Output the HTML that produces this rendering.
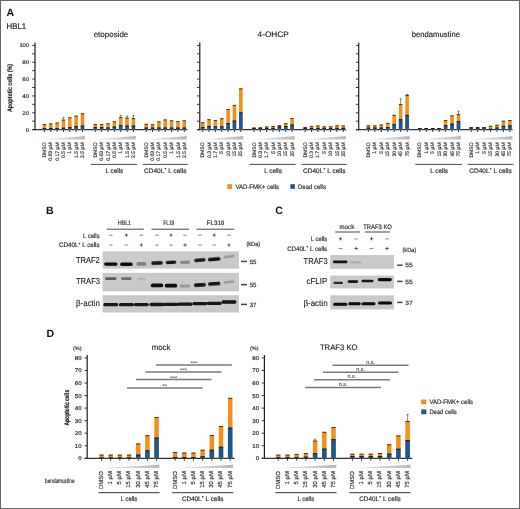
<!DOCTYPE html>
<html><head><meta charset="utf-8"><style>
html,body{margin:0;padding:0;background:#fff;}
body{width:520px;height:509px;overflow:hidden;position:relative;font-family:"Liberation Sans", sans-serif;}
.frame{position:absolute;left:0;top:0;width:518px;height:507px;border:1px solid #666;}
svg{position:absolute;left:0;top:0;will-change:transform;text-rendering:geometricPrecision;filter:blur(0.3px);}
</style></head><body>
<svg width="520" height="509" viewBox="0 0 520 509" font-family='"Liberation Sans", sans-serif'><defs>
<linearGradient id="wg" x1="0" x2="1" y1="0" y2="0"><stop offset="0" stop-color="#f0f0f0"/><stop offset="1" stop-color="#b8b8b8"/></linearGradient>
<linearGradient id="blotg" x1="0" x2="0" y1="0" y2="1"><stop offset="0" stop-color="#c6c6c6"/><stop offset="0.3" stop-color="#cbcbcb"/><stop offset="1" stop-color="#c7c7c7"/></linearGradient>
<filter id="bl" x="-30%" y="-100%" width="160%" height="300%"><feGaussianBlur stdDeviation="0.7"/></filter>
</defs><text x="6.40" y="15.80" font-size="10.6" text-anchor="start" font-weight="bold" fill="#111" stroke="#111" stroke-width="0" >A</text>
<text x="6.60" y="28.70" font-size="8.4" text-anchor="start" font-weight="normal" fill="#222" stroke="#222" stroke-width="0.2" textLength="19.6" lengthAdjust="spacingAndGlyphs" >HBL1</text>
<text transform="translate(11.9,88) rotate(-90)" font-size="6.6" text-anchor="middle" fill="#1a1a1a" stroke="#1a1a1a" stroke-width="0.15" font-weight="bold" textLength="48" lengthAdjust="spacingAndGlyphs">Apoptotic cells (%)</text>
<text x="111.00" y="37.40" font-size="8.0" text-anchor="middle" font-weight="normal" fill="#222" stroke="#222" stroke-width="0.15" textLength="34.6" lengthAdjust="spacingAndGlyphs" >etoposide</text>
<line x1="35.00" y1="42.40" x2="35.00" y2="130.20" stroke="#1e1e1e" stroke-width="1.2"/>
<line x1="32.20" y1="129.60" x2="35.00" y2="129.60" stroke="#222" stroke-width="0.9"/>
<text x="29.10" y="131.50" font-size="5.4" text-anchor="end" font-weight="normal" fill="#333" stroke="#333" stroke-width="0.2" textLength="3.3" lengthAdjust="spacingAndGlyphs" >0</text>
<line x1="32.20" y1="121.18" x2="35.00" y2="121.18" stroke="#222" stroke-width="0.9"/>
<line x1="32.20" y1="112.76" x2="35.00" y2="112.76" stroke="#222" stroke-width="0.9"/>
<text x="29.10" y="114.66" font-size="5.4" text-anchor="end" font-weight="normal" fill="#333" stroke="#333" stroke-width="0.2" textLength="6.8" lengthAdjust="spacingAndGlyphs" >20</text>
<line x1="32.20" y1="104.34" x2="35.00" y2="104.34" stroke="#222" stroke-width="0.9"/>
<line x1="32.20" y1="95.92" x2="35.00" y2="95.92" stroke="#222" stroke-width="0.9"/>
<text x="29.10" y="97.82" font-size="5.4" text-anchor="end" font-weight="normal" fill="#333" stroke="#333" stroke-width="0.2" textLength="6.8" lengthAdjust="spacingAndGlyphs" >40</text>
<line x1="32.20" y1="87.50" x2="35.00" y2="87.50" stroke="#222" stroke-width="0.9"/>
<line x1="32.20" y1="79.08" x2="35.00" y2="79.08" stroke="#222" stroke-width="0.9"/>
<text x="29.10" y="80.98" font-size="5.4" text-anchor="end" font-weight="normal" fill="#333" stroke="#333" stroke-width="0.2" textLength="6.8" lengthAdjust="spacingAndGlyphs" >60</text>
<line x1="32.20" y1="70.66" x2="35.00" y2="70.66" stroke="#222" stroke-width="0.9"/>
<line x1="32.20" y1="62.24" x2="35.00" y2="62.24" stroke="#222" stroke-width="0.9"/>
<text x="29.10" y="64.14" font-size="5.4" text-anchor="end" font-weight="normal" fill="#333" stroke="#333" stroke-width="0.2" textLength="6.8" lengthAdjust="spacingAndGlyphs" >80</text>
<line x1="32.20" y1="53.82" x2="35.00" y2="53.82" stroke="#222" stroke-width="0.9"/>
<line x1="32.20" y1="45.40" x2="35.00" y2="45.40" stroke="#222" stroke-width="0.9"/>
<text x="29.10" y="47.30" font-size="5.4" text-anchor="end" font-weight="normal" fill="#333" stroke="#333" stroke-width="0.2" textLength="9.7" lengthAdjust="spacingAndGlyphs" >100</text>
<line x1="32.20" y1="129.60" x2="187.30" y2="129.60" stroke="#2a3440" stroke-width="1.3"/>
<rect x="42.60" y="124.13" width="3.60" height="5.47" fill="#F1901A" />
<rect x="42.60" y="128.08" width="3.60" height="1.52" fill="#195894" />
<line x1="42.80" y1="124.58" x2="46.00" y2="124.58" stroke="#3a2a10" stroke-width="0.9"/>
<line x1="42.80" y1="128.58" x2="46.00" y2="128.58" stroke="#1a1a1a" stroke-width="1.0"/>
<line x1="44.40" y1="129.60" x2="44.40" y2="132.00" stroke="#222" stroke-width="0.9"/>
<rect x="48.95" y="123.45" width="3.60" height="6.15" fill="#F1901A" />
<rect x="48.95" y="128.08" width="3.60" height="1.52" fill="#195894" />
<line x1="49.15" y1="123.90" x2="52.35" y2="123.90" stroke="#3a2a10" stroke-width="0.9"/>
<line x1="49.15" y1="128.58" x2="52.35" y2="128.58" stroke="#1a1a1a" stroke-width="1.0"/>
<line x1="50.75" y1="129.60" x2="50.75" y2="132.00" stroke="#222" stroke-width="0.9"/>
<rect x="55.30" y="122.61" width="3.60" height="6.99" fill="#F1901A" />
<rect x="55.30" y="128.08" width="3.60" height="1.52" fill="#195894" />
<line x1="55.50" y1="123.06" x2="58.70" y2="123.06" stroke="#3a2a10" stroke-width="0.9"/>
<line x1="55.50" y1="128.58" x2="58.70" y2="128.58" stroke="#1a1a1a" stroke-width="1.0"/>
<line x1="57.10" y1="129.60" x2="57.10" y2="132.00" stroke="#222" stroke-width="0.9"/>
<rect x="61.65" y="119.66" width="3.60" height="9.94" fill="#F1901A" />
<rect x="61.65" y="127.75" width="3.60" height="1.85" fill="#195894" />
<line x1="61.85" y1="120.11" x2="65.05" y2="120.11" stroke="#3a2a10" stroke-width="0.9"/>
<line x1="61.85" y1="128.25" x2="65.05" y2="128.25" stroke="#1a1a1a" stroke-width="1.0"/>
<line x1="63.45" y1="117.39" x2="63.45" y2="119.66" stroke="#333" stroke-width="0.6"/>
<line x1="62.35" y1="117.39" x2="64.55" y2="117.39" stroke="#333" stroke-width="0.6"/>
<line x1="63.45" y1="129.60" x2="63.45" y2="132.00" stroke="#222" stroke-width="0.9"/>
<rect x="68.00" y="117.39" width="3.60" height="12.21" fill="#F1901A" />
<rect x="68.00" y="127.07" width="3.60" height="2.53" fill="#195894" />
<line x1="68.20" y1="117.84" x2="71.40" y2="117.84" stroke="#3a2a10" stroke-width="0.9"/>
<line x1="68.20" y1="127.57" x2="71.40" y2="127.57" stroke="#1a1a1a" stroke-width="1.0"/>
<line x1="69.80" y1="129.60" x2="69.80" y2="132.00" stroke="#222" stroke-width="0.9"/>
<rect x="74.35" y="115.71" width="3.60" height="13.89" fill="#F1901A" />
<rect x="74.35" y="126.23" width="3.60" height="3.37" fill="#195894" />
<line x1="74.55" y1="116.16" x2="77.75" y2="116.16" stroke="#3a2a10" stroke-width="0.9"/>
<line x1="74.55" y1="126.73" x2="77.75" y2="126.73" stroke="#1a1a1a" stroke-width="1.0"/>
<line x1="76.15" y1="129.60" x2="76.15" y2="132.00" stroke="#222" stroke-width="0.9"/>
<rect x="80.70" y="113.35" width="3.60" height="16.25" fill="#F1901A" />
<rect x="80.70" y="125.64" width="3.60" height="3.96" fill="#195894" />
<line x1="80.90" y1="113.80" x2="84.10" y2="113.80" stroke="#3a2a10" stroke-width="0.9"/>
<line x1="80.90" y1="126.14" x2="84.10" y2="126.14" stroke="#1a1a1a" stroke-width="1.0"/>
<line x1="82.50" y1="129.60" x2="82.50" y2="132.00" stroke="#222" stroke-width="0.9"/>
<polygon points="43.40,139.50 85.00,136.10 85.00,139.50" fill="url(#wg)"/>
<text transform="translate(45.98,142.30) rotate(-90)" font-size="5.1" text-anchor="end" fill="#333" stroke="#333" stroke-width="0.18000000000000002">DMSO</text>
<text transform="translate(52.33,142.30) rotate(-90)" font-size="5.1" text-anchor="end" fill="#333" stroke="#333" stroke-width="0.18000000000000002">0.03 µM</text>
<text transform="translate(58.68,142.30) rotate(-90)" font-size="5.1" text-anchor="end" fill="#333" stroke="#333" stroke-width="0.18000000000000002">0.17 µM</text>
<text transform="translate(65.03,142.30) rotate(-90)" font-size="5.1" text-anchor="end" fill="#333" stroke="#333" stroke-width="0.18000000000000002">0.5 µM</text>
<text transform="translate(71.38,142.30) rotate(-90)" font-size="5.1" text-anchor="end" fill="#333" stroke="#333" stroke-width="0.18000000000000002">1 µM</text>
<text transform="translate(77.73,142.30) rotate(-90)" font-size="5.1" text-anchor="end" fill="#333" stroke="#333" stroke-width="0.18000000000000002">1.5 µM</text>
<text transform="translate(84.08,142.30) rotate(-90)" font-size="5.1" text-anchor="end" fill="#333" stroke="#333" stroke-width="0.18000000000000002">2.5 µM</text>
<rect x="93.50" y="124.13" width="3.60" height="5.47" fill="#F1901A" />
<rect x="93.50" y="127.07" width="3.60" height="2.53" fill="#195894" />
<line x1="93.70" y1="124.58" x2="96.90" y2="124.58" stroke="#3a2a10" stroke-width="0.9"/>
<line x1="93.70" y1="127.57" x2="96.90" y2="127.57" stroke="#1a1a1a" stroke-width="1.0"/>
<line x1="95.30" y1="129.60" x2="95.30" y2="132.00" stroke="#222" stroke-width="0.9"/>
<rect x="99.85" y="124.13" width="3.60" height="5.47" fill="#F1901A" />
<rect x="99.85" y="127.07" width="3.60" height="2.53" fill="#195894" />
<line x1="100.05" y1="124.58" x2="103.25" y2="124.58" stroke="#3a2a10" stroke-width="0.9"/>
<line x1="100.05" y1="127.57" x2="103.25" y2="127.57" stroke="#1a1a1a" stroke-width="1.0"/>
<line x1="101.65" y1="129.60" x2="101.65" y2="132.00" stroke="#222" stroke-width="0.9"/>
<rect x="106.20" y="123.37" width="3.60" height="6.23" fill="#F1901A" />
<rect x="106.20" y="127.49" width="3.60" height="2.11" fill="#195894" />
<line x1="106.40" y1="123.82" x2="109.60" y2="123.82" stroke="#3a2a10" stroke-width="0.9"/>
<line x1="106.40" y1="127.99" x2="109.60" y2="127.99" stroke="#1a1a1a" stroke-width="1.0"/>
<line x1="108.00" y1="129.60" x2="108.00" y2="132.00" stroke="#222" stroke-width="0.9"/>
<rect x="112.55" y="121.35" width="3.60" height="8.25" fill="#F1901A" />
<rect x="112.55" y="126.65" width="3.60" height="2.95" fill="#195894" />
<line x1="112.75" y1="121.80" x2="115.95" y2="121.80" stroke="#3a2a10" stroke-width="0.9"/>
<line x1="112.75" y1="127.15" x2="115.95" y2="127.15" stroke="#1a1a1a" stroke-width="1.0"/>
<line x1="114.35" y1="129.60" x2="114.35" y2="132.00" stroke="#222" stroke-width="0.9"/>
<rect x="118.90" y="117.14" width="3.60" height="12.46" fill="#F1901A" />
<rect x="118.90" y="125.14" width="3.60" height="4.46" fill="#195894" />
<line x1="119.10" y1="117.59" x2="122.30" y2="117.59" stroke="#3a2a10" stroke-width="0.9"/>
<line x1="119.10" y1="125.64" x2="122.30" y2="125.64" stroke="#1a1a1a" stroke-width="1.0"/>
<line x1="120.70" y1="115.29" x2="120.70" y2="117.14" stroke="#333" stroke-width="0.6"/>
<line x1="119.60" y1="115.29" x2="121.80" y2="115.29" stroke="#333" stroke-width="0.6"/>
<line x1="120.70" y1="129.60" x2="120.70" y2="132.00" stroke="#222" stroke-width="0.9"/>
<rect x="125.25" y="117.64" width="3.60" height="11.96" fill="#F1901A" />
<rect x="125.25" y="125.64" width="3.60" height="3.96" fill="#195894" />
<line x1="125.45" y1="118.09" x2="128.65" y2="118.09" stroke="#3a2a10" stroke-width="0.9"/>
<line x1="125.45" y1="126.14" x2="128.65" y2="126.14" stroke="#1a1a1a" stroke-width="1.0"/>
<line x1="127.05" y1="116.13" x2="127.05" y2="117.64" stroke="#333" stroke-width="0.6"/>
<line x1="125.95" y1="116.13" x2="128.15" y2="116.13" stroke="#333" stroke-width="0.6"/>
<line x1="127.05" y1="129.60" x2="127.05" y2="132.00" stroke="#222" stroke-width="0.9"/>
<rect x="131.60" y="118.15" width="3.60" height="11.45" fill="#F1901A" />
<rect x="131.60" y="125.64" width="3.60" height="3.96" fill="#195894" />
<line x1="131.80" y1="118.60" x2="135.00" y2="118.60" stroke="#3a2a10" stroke-width="0.9"/>
<line x1="131.80" y1="126.14" x2="135.00" y2="126.14" stroke="#1a1a1a" stroke-width="1.0"/>
<line x1="133.40" y1="115.71" x2="133.40" y2="118.15" stroke="#333" stroke-width="0.6"/>
<line x1="132.30" y1="115.71" x2="134.50" y2="115.71" stroke="#333" stroke-width="0.6"/>
<line x1="133.40" y1="129.60" x2="133.40" y2="132.00" stroke="#222" stroke-width="0.9"/>
<polygon points="94.30,139.50 135.90,136.10 135.90,139.50" fill="url(#wg)"/>
<text transform="translate(96.88,142.30) rotate(-90)" font-size="5.1" text-anchor="end" fill="#333" stroke="#333" stroke-width="0.18000000000000002">DMSO</text>
<text transform="translate(103.23,142.30) rotate(-90)" font-size="5.1" text-anchor="end" fill="#333" stroke="#333" stroke-width="0.18000000000000002">0.03 µM</text>
<text transform="translate(109.58,142.30) rotate(-90)" font-size="5.1" text-anchor="end" fill="#333" stroke="#333" stroke-width="0.18000000000000002">0.17 µM</text>
<text transform="translate(115.93,142.30) rotate(-90)" font-size="5.1" text-anchor="end" fill="#333" stroke="#333" stroke-width="0.18000000000000002">0.5 µM</text>
<text transform="translate(122.28,142.30) rotate(-90)" font-size="5.1" text-anchor="end" fill="#333" stroke="#333" stroke-width="0.18000000000000002">1 µM</text>
<text transform="translate(128.63,142.30) rotate(-90)" font-size="5.1" text-anchor="end" fill="#333" stroke="#333" stroke-width="0.18000000000000002">1.5 µM</text>
<text transform="translate(134.98,142.30) rotate(-90)" font-size="5.1" text-anchor="end" fill="#333" stroke="#333" stroke-width="0.18000000000000002">2.5 µM</text>
<rect x="144.40" y="123.87" width="3.60" height="5.73" fill="#F1901A" />
<rect x="144.40" y="127.58" width="3.60" height="2.02" fill="#195894" />
<line x1="144.60" y1="124.32" x2="147.80" y2="124.32" stroke="#3a2a10" stroke-width="0.9"/>
<line x1="144.60" y1="128.08" x2="147.80" y2="128.08" stroke="#1a1a1a" stroke-width="1.0"/>
<line x1="146.20" y1="129.60" x2="146.20" y2="132.00" stroke="#222" stroke-width="0.9"/>
<rect x="150.75" y="124.30" width="3.60" height="5.30" fill="#F1901A" />
<rect x="150.75" y="127.58" width="3.60" height="2.02" fill="#195894" />
<line x1="150.95" y1="124.75" x2="154.15" y2="124.75" stroke="#3a2a10" stroke-width="0.9"/>
<line x1="150.95" y1="128.08" x2="154.15" y2="128.08" stroke="#1a1a1a" stroke-width="1.0"/>
<line x1="152.55" y1="129.60" x2="152.55" y2="132.00" stroke="#222" stroke-width="0.9"/>
<rect x="157.10" y="121.43" width="3.60" height="8.17" fill="#F1901A" />
<rect x="157.10" y="127.58" width="3.60" height="2.02" fill="#195894" />
<line x1="157.30" y1="121.88" x2="160.50" y2="121.88" stroke="#3a2a10" stroke-width="0.9"/>
<line x1="157.30" y1="128.08" x2="160.50" y2="128.08" stroke="#1a1a1a" stroke-width="1.0"/>
<line x1="158.90" y1="129.60" x2="158.90" y2="132.00" stroke="#222" stroke-width="0.9"/>
<rect x="163.45" y="119.50" width="3.60" height="10.10" fill="#F1901A" />
<rect x="163.45" y="127.58" width="3.60" height="2.02" fill="#195894" />
<line x1="163.65" y1="119.95" x2="166.85" y2="119.95" stroke="#3a2a10" stroke-width="0.9"/>
<line x1="163.65" y1="128.08" x2="166.85" y2="128.08" stroke="#1a1a1a" stroke-width="1.0"/>
<line x1="165.25" y1="129.60" x2="165.25" y2="132.00" stroke="#222" stroke-width="0.9"/>
<rect x="169.80" y="120.34" width="3.60" height="9.26" fill="#F1901A" />
<rect x="169.80" y="127.58" width="3.60" height="2.02" fill="#195894" />
<line x1="170.00" y1="120.79" x2="173.20" y2="120.79" stroke="#3a2a10" stroke-width="0.9"/>
<line x1="170.00" y1="128.08" x2="173.20" y2="128.08" stroke="#1a1a1a" stroke-width="1.0"/>
<line x1="171.60" y1="129.60" x2="171.60" y2="132.00" stroke="#222" stroke-width="0.9"/>
<rect x="176.15" y="121.18" width="3.60" height="8.42" fill="#F1901A" />
<rect x="176.15" y="127.58" width="3.60" height="2.02" fill="#195894" />
<line x1="176.35" y1="121.63" x2="179.55" y2="121.63" stroke="#3a2a10" stroke-width="0.9"/>
<line x1="176.35" y1="128.08" x2="179.55" y2="128.08" stroke="#1a1a1a" stroke-width="1.0"/>
<line x1="177.95" y1="129.60" x2="177.95" y2="132.00" stroke="#222" stroke-width="0.9"/>
<rect x="182.50" y="120.34" width="3.60" height="9.26" fill="#F1901A" />
<rect x="182.50" y="127.58" width="3.60" height="2.02" fill="#195894" />
<line x1="182.70" y1="120.79" x2="185.90" y2="120.79" stroke="#3a2a10" stroke-width="0.9"/>
<line x1="182.70" y1="128.08" x2="185.90" y2="128.08" stroke="#1a1a1a" stroke-width="1.0"/>
<line x1="184.30" y1="129.60" x2="184.30" y2="132.00" stroke="#222" stroke-width="0.9"/>
<polygon points="145.20,139.50 186.80,136.10 186.80,139.50" fill="url(#wg)"/>
<text transform="translate(147.78,142.30) rotate(-90)" font-size="5.1" text-anchor="end" fill="#333" stroke="#333" stroke-width="0.18000000000000002">DMSO</text>
<text transform="translate(154.13,142.30) rotate(-90)" font-size="5.1" text-anchor="end" fill="#333" stroke="#333" stroke-width="0.18000000000000002">0.03 µM</text>
<text transform="translate(160.48,142.30) rotate(-90)" font-size="5.1" text-anchor="end" fill="#333" stroke="#333" stroke-width="0.18000000000000002">0.17 µM</text>
<text transform="translate(166.83,142.30) rotate(-90)" font-size="5.1" text-anchor="end" fill="#333" stroke="#333" stroke-width="0.18000000000000002">0.5 µM</text>
<text transform="translate(173.18,142.30) rotate(-90)" font-size="5.1" text-anchor="end" fill="#333" stroke="#333" stroke-width="0.18000000000000002">1 µM</text>
<text transform="translate(179.53,142.30) rotate(-90)" font-size="5.1" text-anchor="end" fill="#333" stroke="#333" stroke-width="0.18000000000000002">1.5 µM</text>
<text transform="translate(185.88,142.30) rotate(-90)" font-size="5.1" text-anchor="end" fill="#333" stroke="#333" stroke-width="0.18000000000000002">2.5 µM</text>
<line x1="90.80" y1="164.40" x2="136.90" y2="164.40" stroke="#333" stroke-width="0.9"/>
<line x1="142.70" y1="164.40" x2="187.80" y2="164.40" stroke="#333" stroke-width="0.9"/>
<text x="114.35" y="172.60" font-size="6.6" text-anchor="middle" font-weight="normal" fill="#333" stroke="#333" stroke-width="0.2" textLength="17.8" lengthAdjust="spacingAndGlyphs" >L cells</text>
<text x="165.25" y="172.60" font-size="6.6" text-anchor="middle" font-weight="normal" fill="#333" stroke="#333" stroke-width="0.2" textLength="42.4" lengthAdjust="spacingAndGlyphs" >CD40L<tspan font-size="3.84" dy="-2.36">+</tspan><tspan dy="2.36"> L cells</tspan></text>
<text x="273.20" y="37.40" font-size="8.0" text-anchor="middle" font-weight="normal" fill="#222" stroke="#222" stroke-width="0.15" textLength="31.2" lengthAdjust="spacingAndGlyphs" >4-OHCP</text>
<line x1="199.80" y1="42.40" x2="199.80" y2="130.20" stroke="#1e1e1e" stroke-width="1.2"/>
<line x1="197.00" y1="129.60" x2="199.80" y2="129.60" stroke="#222" stroke-width="0.9"/>
<line x1="197.00" y1="121.18" x2="199.80" y2="121.18" stroke="#222" stroke-width="0.9"/>
<line x1="197.00" y1="112.76" x2="199.80" y2="112.76" stroke="#222" stroke-width="0.9"/>
<line x1="197.00" y1="104.34" x2="199.80" y2="104.34" stroke="#222" stroke-width="0.9"/>
<line x1="197.00" y1="95.92" x2="199.80" y2="95.92" stroke="#222" stroke-width="0.9"/>
<line x1="197.00" y1="87.50" x2="199.80" y2="87.50" stroke="#222" stroke-width="0.9"/>
<line x1="197.00" y1="79.08" x2="199.80" y2="79.08" stroke="#222" stroke-width="0.9"/>
<line x1="197.00" y1="70.66" x2="199.80" y2="70.66" stroke="#222" stroke-width="0.9"/>
<line x1="197.00" y1="62.24" x2="199.80" y2="62.24" stroke="#222" stroke-width="0.9"/>
<line x1="197.00" y1="53.82" x2="199.80" y2="53.82" stroke="#222" stroke-width="0.9"/>
<line x1="197.00" y1="45.40" x2="199.80" y2="45.40" stroke="#222" stroke-width="0.9"/>
<line x1="197.00" y1="129.60" x2="346.20" y2="129.60" stroke="#2a3440" stroke-width="1.3"/>
<rect x="200.90" y="122.27" width="3.60" height="7.33" fill="#F1901A" />
<rect x="200.90" y="127.07" width="3.60" height="2.53" fill="#195894" />
<line x1="201.10" y1="122.72" x2="204.30" y2="122.72" stroke="#3a2a10" stroke-width="0.9"/>
<line x1="201.10" y1="127.57" x2="204.30" y2="127.57" stroke="#1a1a1a" stroke-width="1.0"/>
<line x1="202.70" y1="129.60" x2="202.70" y2="132.00" stroke="#222" stroke-width="0.9"/>
<rect x="207.25" y="119.24" width="3.60" height="10.36" fill="#F1901A" />
<rect x="207.25" y="126.06" width="3.60" height="3.54" fill="#195894" />
<line x1="207.45" y1="119.69" x2="210.65" y2="119.69" stroke="#3a2a10" stroke-width="0.9"/>
<line x1="207.45" y1="126.56" x2="210.65" y2="126.56" stroke="#1a1a1a" stroke-width="1.0"/>
<line x1="209.05" y1="129.60" x2="209.05" y2="132.00" stroke="#222" stroke-width="0.9"/>
<rect x="213.60" y="120.09" width="3.60" height="9.51" fill="#F1901A" />
<rect x="213.60" y="126.40" width="3.60" height="3.20" fill="#195894" />
<line x1="213.80" y1="120.54" x2="217.00" y2="120.54" stroke="#3a2a10" stroke-width="0.9"/>
<line x1="213.80" y1="126.90" x2="217.00" y2="126.90" stroke="#1a1a1a" stroke-width="1.0"/>
<line x1="215.40" y1="129.60" x2="215.40" y2="132.00" stroke="#222" stroke-width="0.9"/>
<rect x="219.95" y="118.23" width="3.60" height="11.37" fill="#F1901A" />
<rect x="219.95" y="126.40" width="3.60" height="3.20" fill="#195894" />
<line x1="220.15" y1="118.68" x2="223.35" y2="118.68" stroke="#3a2a10" stroke-width="0.9"/>
<line x1="220.15" y1="126.90" x2="223.35" y2="126.90" stroke="#1a1a1a" stroke-width="1.0"/>
<line x1="221.75" y1="129.60" x2="221.75" y2="132.00" stroke="#222" stroke-width="0.9"/>
<rect x="226.30" y="109.06" width="3.60" height="20.54" fill="#F1901A" />
<rect x="226.30" y="123.12" width="3.60" height="6.48" fill="#195894" />
<line x1="226.50" y1="109.51" x2="229.70" y2="109.51" stroke="#3a2a10" stroke-width="0.9"/>
<line x1="226.50" y1="123.62" x2="229.70" y2="123.62" stroke="#1a1a1a" stroke-width="1.0"/>
<line x1="228.10" y1="129.60" x2="228.10" y2="132.00" stroke="#222" stroke-width="0.9"/>
<rect x="232.65" y="104.93" width="3.60" height="24.67" fill="#F1901A" />
<rect x="232.65" y="120.59" width="3.60" height="9.01" fill="#195894" />
<line x1="232.85" y1="105.38" x2="236.05" y2="105.38" stroke="#3a2a10" stroke-width="0.9"/>
<line x1="232.85" y1="121.09" x2="236.05" y2="121.09" stroke="#1a1a1a" stroke-width="1.0"/>
<line x1="234.45" y1="129.60" x2="234.45" y2="132.00" stroke="#222" stroke-width="0.9"/>
<rect x="239.00" y="88.34" width="3.60" height="41.26" fill="#F1901A" />
<rect x="239.00" y="112.42" width="3.60" height="17.18" fill="#195894" />
<line x1="239.20" y1="88.79" x2="242.40" y2="88.79" stroke="#3a2a10" stroke-width="0.9"/>
<line x1="239.20" y1="112.92" x2="242.40" y2="112.92" stroke="#1a1a1a" stroke-width="1.0"/>
<line x1="240.80" y1="129.60" x2="240.80" y2="132.00" stroke="#222" stroke-width="0.9"/>
<polygon points="201.70,139.50 243.30,136.10 243.30,139.50" fill="url(#wg)"/>
<text transform="translate(204.28,142.30) rotate(-90)" font-size="5.1" text-anchor="end" fill="#333" stroke="#333" stroke-width="0.18000000000000002">DMSO</text>
<text transform="translate(210.63,142.30) rotate(-90)" font-size="5.1" text-anchor="end" fill="#333" stroke="#333" stroke-width="0.18000000000000002">0.3 µM</text>
<text transform="translate(216.98,142.30) rotate(-90)" font-size="5.1" text-anchor="end" fill="#333" stroke="#333" stroke-width="0.18000000000000002">1.7 µM</text>
<text transform="translate(223.33,142.30) rotate(-90)" font-size="5.1" text-anchor="end" fill="#333" stroke="#333" stroke-width="0.18000000000000002">5 µM</text>
<text transform="translate(229.68,142.30) rotate(-90)" font-size="5.1" text-anchor="end" fill="#333" stroke="#333" stroke-width="0.18000000000000002">10 µM</text>
<text transform="translate(236.03,142.30) rotate(-90)" font-size="5.1" text-anchor="end" fill="#333" stroke="#333" stroke-width="0.18000000000000002">15 µM</text>
<text transform="translate(242.38,142.30) rotate(-90)" font-size="5.1" text-anchor="end" fill="#333" stroke="#333" stroke-width="0.18000000000000002">25 µM</text>
<rect x="252.20" y="127.58" width="3.60" height="2.02" fill="#F1901A" />
<rect x="252.20" y="127.92" width="3.60" height="1.68" fill="#195894" />
<line x1="252.40" y1="128.03" x2="255.60" y2="128.03" stroke="#3a2a10" stroke-width="0.9"/>
<line x1="252.40" y1="128.42" x2="255.60" y2="128.42" stroke="#1a1a1a" stroke-width="1.0"/>
<line x1="254.00" y1="129.60" x2="254.00" y2="132.00" stroke="#222" stroke-width="0.9"/>
<rect x="258.55" y="127.33" width="3.60" height="2.27" fill="#F1901A" />
<rect x="258.55" y="127.92" width="3.60" height="1.68" fill="#195894" />
<line x1="258.75" y1="127.78" x2="261.95" y2="127.78" stroke="#3a2a10" stroke-width="0.9"/>
<line x1="258.75" y1="128.42" x2="261.95" y2="128.42" stroke="#1a1a1a" stroke-width="1.0"/>
<line x1="260.35" y1="129.60" x2="260.35" y2="132.00" stroke="#222" stroke-width="0.9"/>
<rect x="264.90" y="126.57" width="3.60" height="3.03" fill="#F1901A" />
<rect x="264.90" y="127.92" width="3.60" height="1.68" fill="#195894" />
<line x1="265.10" y1="127.02" x2="268.30" y2="127.02" stroke="#3a2a10" stroke-width="0.9"/>
<line x1="265.10" y1="128.42" x2="268.30" y2="128.42" stroke="#1a1a1a" stroke-width="1.0"/>
<line x1="266.70" y1="129.60" x2="266.70" y2="132.00" stroke="#222" stroke-width="0.9"/>
<rect x="271.25" y="126.06" width="3.60" height="3.54" fill="#F1901A" />
<rect x="271.25" y="127.92" width="3.60" height="1.68" fill="#195894" />
<line x1="271.45" y1="126.51" x2="274.65" y2="126.51" stroke="#3a2a10" stroke-width="0.9"/>
<line x1="271.45" y1="128.42" x2="274.65" y2="128.42" stroke="#1a1a1a" stroke-width="1.0"/>
<line x1="273.05" y1="129.60" x2="273.05" y2="132.00" stroke="#222" stroke-width="0.9"/>
<rect x="277.60" y="125.22" width="3.60" height="4.38" fill="#F1901A" />
<rect x="277.60" y="126.57" width="3.60" height="3.03" fill="#195894" />
<line x1="277.80" y1="125.67" x2="281.00" y2="125.67" stroke="#3a2a10" stroke-width="0.9"/>
<line x1="277.80" y1="127.07" x2="281.00" y2="127.07" stroke="#1a1a1a" stroke-width="1.0"/>
<line x1="279.40" y1="129.60" x2="279.40" y2="132.00" stroke="#222" stroke-width="0.9"/>
<rect x="283.95" y="123.28" width="3.60" height="6.31" fill="#F1901A" />
<rect x="283.95" y="126.06" width="3.60" height="3.54" fill="#195894" />
<line x1="284.15" y1="123.73" x2="287.35" y2="123.73" stroke="#3a2a10" stroke-width="0.9"/>
<line x1="284.15" y1="126.56" x2="287.35" y2="126.56" stroke="#1a1a1a" stroke-width="1.0"/>
<line x1="285.75" y1="129.60" x2="285.75" y2="132.00" stroke="#222" stroke-width="0.9"/>
<rect x="290.30" y="118.06" width="3.60" height="11.54" fill="#F1901A" />
<rect x="290.30" y="124.55" width="3.60" height="5.05" fill="#195894" />
<line x1="290.50" y1="118.51" x2="293.70" y2="118.51" stroke="#3a2a10" stroke-width="0.9"/>
<line x1="290.50" y1="125.05" x2="293.70" y2="125.05" stroke="#1a1a1a" stroke-width="1.0"/>
<line x1="292.10" y1="129.60" x2="292.10" y2="132.00" stroke="#222" stroke-width="0.9"/>
<polygon points="253.00,139.50 294.60,136.10 294.60,139.50" fill="url(#wg)"/>
<text transform="translate(255.58,142.30) rotate(-90)" font-size="5.1" text-anchor="end" fill="#333" stroke="#333" stroke-width="0.18000000000000002">DMSO</text>
<text transform="translate(261.93,142.30) rotate(-90)" font-size="5.1" text-anchor="end" fill="#333" stroke="#333" stroke-width="0.18000000000000002">0.3 µM</text>
<text transform="translate(268.28,142.30) rotate(-90)" font-size="5.1" text-anchor="end" fill="#333" stroke="#333" stroke-width="0.18000000000000002">1.7 µM</text>
<text transform="translate(274.63,142.30) rotate(-90)" font-size="5.1" text-anchor="end" fill="#333" stroke="#333" stroke-width="0.18000000000000002">5 µM</text>
<text transform="translate(280.98,142.30) rotate(-90)" font-size="5.1" text-anchor="end" fill="#333" stroke="#333" stroke-width="0.18000000000000002">10 µM</text>
<text transform="translate(287.33,142.30) rotate(-90)" font-size="5.1" text-anchor="end" fill="#333" stroke="#333" stroke-width="0.18000000000000002">15 µM</text>
<text transform="translate(293.68,142.30) rotate(-90)" font-size="5.1" text-anchor="end" fill="#333" stroke="#333" stroke-width="0.18000000000000002">25 µM</text>
<rect x="303.40" y="126.91" width="3.60" height="2.69" fill="#F1901A" />
<rect x="303.40" y="127.92" width="3.60" height="1.68" fill="#195894" />
<line x1="303.60" y1="127.36" x2="306.80" y2="127.36" stroke="#3a2a10" stroke-width="0.9"/>
<line x1="303.60" y1="128.42" x2="306.80" y2="128.42" stroke="#1a1a1a" stroke-width="1.0"/>
<line x1="305.20" y1="129.60" x2="305.20" y2="132.00" stroke="#222" stroke-width="0.9"/>
<rect x="309.75" y="126.06" width="3.60" height="3.54" fill="#F1901A" />
<rect x="309.75" y="127.92" width="3.60" height="1.68" fill="#195894" />
<line x1="309.95" y1="126.51" x2="313.15" y2="126.51" stroke="#3a2a10" stroke-width="0.9"/>
<line x1="309.95" y1="128.42" x2="313.15" y2="128.42" stroke="#1a1a1a" stroke-width="1.0"/>
<line x1="311.55" y1="129.60" x2="311.55" y2="132.00" stroke="#222" stroke-width="0.9"/>
<rect x="316.10" y="125.56" width="3.60" height="4.04" fill="#F1901A" />
<rect x="316.10" y="127.92" width="3.60" height="1.68" fill="#195894" />
<line x1="316.30" y1="126.01" x2="319.50" y2="126.01" stroke="#3a2a10" stroke-width="0.9"/>
<line x1="316.30" y1="128.42" x2="319.50" y2="128.42" stroke="#1a1a1a" stroke-width="1.0"/>
<line x1="317.90" y1="129.60" x2="317.90" y2="132.00" stroke="#222" stroke-width="0.9"/>
<rect x="322.45" y="126.40" width="3.60" height="3.20" fill="#F1901A" />
<rect x="322.45" y="127.92" width="3.60" height="1.68" fill="#195894" />
<line x1="322.65" y1="126.85" x2="325.85" y2="126.85" stroke="#3a2a10" stroke-width="0.9"/>
<line x1="322.65" y1="128.42" x2="325.85" y2="128.42" stroke="#1a1a1a" stroke-width="1.0"/>
<line x1="324.25" y1="129.60" x2="324.25" y2="132.00" stroke="#222" stroke-width="0.9"/>
<rect x="328.80" y="126.40" width="3.60" height="3.20" fill="#F1901A" />
<rect x="328.80" y="127.92" width="3.60" height="1.68" fill="#195894" />
<line x1="329.00" y1="126.85" x2="332.20" y2="126.85" stroke="#3a2a10" stroke-width="0.9"/>
<line x1="329.00" y1="128.42" x2="332.20" y2="128.42" stroke="#1a1a1a" stroke-width="1.0"/>
<line x1="330.60" y1="129.60" x2="330.60" y2="132.00" stroke="#222" stroke-width="0.9"/>
<rect x="335.15" y="125.39" width="3.60" height="4.21" fill="#F1901A" />
<rect x="335.15" y="127.92" width="3.60" height="1.68" fill="#195894" />
<line x1="335.35" y1="125.84" x2="338.55" y2="125.84" stroke="#3a2a10" stroke-width="0.9"/>
<line x1="335.35" y1="128.42" x2="338.55" y2="128.42" stroke="#1a1a1a" stroke-width="1.0"/>
<line x1="336.95" y1="129.60" x2="336.95" y2="132.00" stroke="#222" stroke-width="0.9"/>
<rect x="341.50" y="125.56" width="3.60" height="4.04" fill="#F1901A" />
<rect x="341.50" y="127.92" width="3.60" height="1.68" fill="#195894" />
<line x1="341.70" y1="126.01" x2="344.90" y2="126.01" stroke="#3a2a10" stroke-width="0.9"/>
<line x1="341.70" y1="128.42" x2="344.90" y2="128.42" stroke="#1a1a1a" stroke-width="1.0"/>
<line x1="343.30" y1="129.60" x2="343.30" y2="132.00" stroke="#222" stroke-width="0.9"/>
<polygon points="304.20,139.50 345.80,136.10 345.80,139.50" fill="url(#wg)"/>
<text transform="translate(306.78,142.30) rotate(-90)" font-size="5.1" text-anchor="end" fill="#333" stroke="#333" stroke-width="0.18000000000000002">DMSO</text>
<text transform="translate(313.13,142.30) rotate(-90)" font-size="5.1" text-anchor="end" fill="#333" stroke="#333" stroke-width="0.18000000000000002">0.3 µM</text>
<text transform="translate(319.48,142.30) rotate(-90)" font-size="5.1" text-anchor="end" fill="#333" stroke="#333" stroke-width="0.18000000000000002">1.7 µM</text>
<text transform="translate(325.83,142.30) rotate(-90)" font-size="5.1" text-anchor="end" fill="#333" stroke="#333" stroke-width="0.18000000000000002">5 µM</text>
<text transform="translate(332.18,142.30) rotate(-90)" font-size="5.1" text-anchor="end" fill="#333" stroke="#333" stroke-width="0.18000000000000002">10 µM</text>
<text transform="translate(338.53,142.30) rotate(-90)" font-size="5.1" text-anchor="end" fill="#333" stroke="#333" stroke-width="0.18000000000000002">15 µM</text>
<text transform="translate(344.88,142.30) rotate(-90)" font-size="5.1" text-anchor="end" fill="#333" stroke="#333" stroke-width="0.18000000000000002">25 µM</text>
<line x1="249.50" y1="164.40" x2="295.60" y2="164.40" stroke="#333" stroke-width="0.9"/>
<line x1="301.70" y1="164.40" x2="346.80" y2="164.40" stroke="#333" stroke-width="0.9"/>
<text x="273.05" y="172.60" font-size="6.6" text-anchor="middle" font-weight="normal" fill="#333" stroke="#333" stroke-width="0.2" textLength="17.8" lengthAdjust="spacingAndGlyphs" >L cells</text>
<text x="324.25" y="172.60" font-size="6.6" text-anchor="middle" font-weight="normal" fill="#333" stroke="#333" stroke-width="0.2" textLength="42.4" lengthAdjust="spacingAndGlyphs" >CD40L<tspan font-size="3.84" dy="-2.36">+</tspan><tspan dy="2.36"> L cells</tspan></text>
<text x="435.85" y="37.40" font-size="8.0" text-anchor="middle" font-weight="normal" fill="#222" stroke="#222" stroke-width="0.15" textLength="48.4" lengthAdjust="spacingAndGlyphs" >bendamustine</text>
<line x1="358.70" y1="42.40" x2="358.70" y2="130.20" stroke="#1e1e1e" stroke-width="1.2"/>
<line x1="355.90" y1="129.60" x2="358.70" y2="129.60" stroke="#222" stroke-width="0.9"/>
<line x1="355.90" y1="121.18" x2="358.70" y2="121.18" stroke="#222" stroke-width="0.9"/>
<line x1="355.90" y1="112.76" x2="358.70" y2="112.76" stroke="#222" stroke-width="0.9"/>
<line x1="355.90" y1="104.34" x2="358.70" y2="104.34" stroke="#222" stroke-width="0.9"/>
<line x1="355.90" y1="95.92" x2="358.70" y2="95.92" stroke="#222" stroke-width="0.9"/>
<line x1="355.90" y1="87.50" x2="358.70" y2="87.50" stroke="#222" stroke-width="0.9"/>
<line x1="355.90" y1="79.08" x2="358.70" y2="79.08" stroke="#222" stroke-width="0.9"/>
<line x1="355.90" y1="70.66" x2="358.70" y2="70.66" stroke="#222" stroke-width="0.9"/>
<line x1="355.90" y1="62.24" x2="358.70" y2="62.24" stroke="#222" stroke-width="0.9"/>
<line x1="355.90" y1="53.82" x2="358.70" y2="53.82" stroke="#222" stroke-width="0.9"/>
<line x1="355.90" y1="45.40" x2="358.70" y2="45.40" stroke="#222" stroke-width="0.9"/>
<line x1="355.90" y1="129.60" x2="512.50" y2="129.60" stroke="#2a3440" stroke-width="1.3"/>
<rect x="366.60" y="125.31" width="3.60" height="4.29" fill="#F1901A" />
<rect x="366.60" y="127.58" width="3.60" height="2.02" fill="#195894" />
<line x1="366.80" y1="125.76" x2="370.00" y2="125.76" stroke="#3a2a10" stroke-width="0.9"/>
<line x1="366.80" y1="128.08" x2="370.00" y2="128.08" stroke="#1a1a1a" stroke-width="1.0"/>
<line x1="368.40" y1="129.60" x2="368.40" y2="132.00" stroke="#222" stroke-width="0.9"/>
<rect x="373.05" y="125.47" width="3.60" height="4.13" fill="#F1901A" />
<rect x="373.05" y="127.58" width="3.60" height="2.02" fill="#195894" />
<line x1="373.25" y1="125.92" x2="376.45" y2="125.92" stroke="#3a2a10" stroke-width="0.9"/>
<line x1="373.25" y1="128.08" x2="376.45" y2="128.08" stroke="#1a1a1a" stroke-width="1.0"/>
<line x1="374.85" y1="129.60" x2="374.85" y2="132.00" stroke="#222" stroke-width="0.9"/>
<rect x="379.50" y="124.55" width="3.60" height="5.05" fill="#F1901A" />
<rect x="379.50" y="127.58" width="3.60" height="2.02" fill="#195894" />
<line x1="379.70" y1="125.00" x2="382.90" y2="125.00" stroke="#3a2a10" stroke-width="0.9"/>
<line x1="379.70" y1="128.08" x2="382.90" y2="128.08" stroke="#1a1a1a" stroke-width="1.0"/>
<line x1="381.30" y1="129.60" x2="381.30" y2="132.00" stroke="#222" stroke-width="0.9"/>
<rect x="385.95" y="122.86" width="3.60" height="6.74" fill="#F1901A" />
<rect x="385.95" y="127.07" width="3.60" height="2.53" fill="#195894" />
<line x1="386.15" y1="123.31" x2="389.35" y2="123.31" stroke="#3a2a10" stroke-width="0.9"/>
<line x1="386.15" y1="127.57" x2="389.35" y2="127.57" stroke="#1a1a1a" stroke-width="1.0"/>
<line x1="387.75" y1="129.60" x2="387.75" y2="132.00" stroke="#222" stroke-width="0.9"/>
<rect x="392.40" y="114.86" width="3.60" height="14.73" fill="#F1901A" />
<rect x="392.40" y="124.21" width="3.60" height="5.39" fill="#195894" />
<line x1="392.60" y1="115.31" x2="395.80" y2="115.31" stroke="#3a2a10" stroke-width="0.9"/>
<line x1="392.60" y1="124.71" x2="395.80" y2="124.71" stroke="#1a1a1a" stroke-width="1.0"/>
<line x1="394.20" y1="129.60" x2="394.20" y2="132.00" stroke="#222" stroke-width="0.9"/>
<rect x="398.85" y="104.09" width="3.60" height="25.51" fill="#F1901A" />
<rect x="398.85" y="119.33" width="3.60" height="10.27" fill="#195894" />
<line x1="399.05" y1="104.54" x2="402.25" y2="104.54" stroke="#3a2a10" stroke-width="0.9"/>
<line x1="399.05" y1="119.83" x2="402.25" y2="119.83" stroke="#1a1a1a" stroke-width="1.0"/>
<line x1="400.65" y1="98.78" x2="400.65" y2="104.09" stroke="#333" stroke-width="0.6"/>
<line x1="399.55" y1="98.78" x2="401.75" y2="98.78" stroke="#333" stroke-width="0.6"/>
<line x1="400.65" y1="129.60" x2="400.65" y2="132.00" stroke="#222" stroke-width="0.9"/>
<rect x="405.30" y="95.08" width="3.60" height="34.52" fill="#F1901A" />
<rect x="405.30" y="114.86" width="3.60" height="14.73" fill="#195894" />
<line x1="405.50" y1="95.53" x2="408.70" y2="95.53" stroke="#3a2a10" stroke-width="0.9"/>
<line x1="405.50" y1="115.36" x2="408.70" y2="115.36" stroke="#1a1a1a" stroke-width="1.0"/>
<line x1="407.10" y1="94.40" x2="407.10" y2="95.08" stroke="#333" stroke-width="0.6"/>
<line x1="406.00" y1="94.40" x2="408.20" y2="94.40" stroke="#333" stroke-width="0.6"/>
<line x1="407.10" y1="129.60" x2="407.10" y2="132.00" stroke="#222" stroke-width="0.9"/>
<polygon points="367.40,139.50 409.60,136.10 409.60,139.50" fill="url(#wg)"/>
<text transform="translate(369.98,142.30) rotate(-90)" font-size="5.1" text-anchor="end" fill="#333" stroke="#333" stroke-width="0.18000000000000002">DMSO</text>
<text transform="translate(376.43,142.30) rotate(-90)" font-size="5.1" text-anchor="end" fill="#333" stroke="#333" stroke-width="0.18000000000000002">1 µM</text>
<text transform="translate(382.88,142.30) rotate(-90)" font-size="5.1" text-anchor="end" fill="#333" stroke="#333" stroke-width="0.18000000000000002">5 µM</text>
<text transform="translate(389.33,142.30) rotate(-90)" font-size="5.1" text-anchor="end" fill="#333" stroke="#333" stroke-width="0.18000000000000002">15 µM</text>
<text transform="translate(395.78,142.30) rotate(-90)" font-size="5.1" text-anchor="end" fill="#333" stroke="#333" stroke-width="0.18000000000000002">30 µM</text>
<text transform="translate(402.23,142.30) rotate(-90)" font-size="5.1" text-anchor="end" fill="#333" stroke="#333" stroke-width="0.18000000000000002">45 µM</text>
<text transform="translate(408.68,142.30) rotate(-90)" font-size="5.1" text-anchor="end" fill="#333" stroke="#333" stroke-width="0.18000000000000002">75 µM</text>
<rect x="418.00" y="128.08" width="3.60" height="1.52" fill="#F1901A" />
<rect x="418.00" y="128.08" width="3.60" height="1.52" fill="#195894" />
<line x1="418.20" y1="128.53" x2="421.40" y2="128.53" stroke="#3a2a10" stroke-width="0.9"/>
<line x1="418.20" y1="128.58" x2="421.40" y2="128.58" stroke="#1a1a1a" stroke-width="1.0"/>
<line x1="419.80" y1="129.60" x2="419.80" y2="132.00" stroke="#222" stroke-width="0.9"/>
<rect x="424.45" y="128.08" width="3.60" height="1.52" fill="#F1901A" />
<rect x="424.45" y="128.08" width="3.60" height="1.52" fill="#195894" />
<line x1="424.65" y1="128.53" x2="427.85" y2="128.53" stroke="#3a2a10" stroke-width="0.9"/>
<line x1="424.65" y1="128.58" x2="427.85" y2="128.58" stroke="#1a1a1a" stroke-width="1.0"/>
<line x1="426.25" y1="129.60" x2="426.25" y2="132.00" stroke="#222" stroke-width="0.9"/>
<rect x="430.90" y="128.08" width="3.60" height="1.52" fill="#F1901A" />
<rect x="430.90" y="128.08" width="3.60" height="1.52" fill="#195894" />
<line x1="431.10" y1="128.53" x2="434.30" y2="128.53" stroke="#3a2a10" stroke-width="0.9"/>
<line x1="431.10" y1="128.58" x2="434.30" y2="128.58" stroke="#1a1a1a" stroke-width="1.0"/>
<line x1="432.70" y1="129.60" x2="432.70" y2="132.00" stroke="#222" stroke-width="0.9"/>
<rect x="437.35" y="128.08" width="3.60" height="1.52" fill="#F1901A" />
<rect x="437.35" y="128.08" width="3.60" height="1.52" fill="#195894" />
<line x1="437.55" y1="128.53" x2="440.75" y2="128.53" stroke="#3a2a10" stroke-width="0.9"/>
<line x1="437.55" y1="128.58" x2="440.75" y2="128.58" stroke="#1a1a1a" stroke-width="1.0"/>
<line x1="439.15" y1="129.60" x2="439.15" y2="132.00" stroke="#222" stroke-width="0.9"/>
<rect x="443.80" y="120.17" width="3.60" height="9.43" fill="#F1901A" />
<rect x="443.80" y="125.14" width="3.60" height="4.46" fill="#195894" />
<line x1="444.00" y1="120.62" x2="447.20" y2="120.62" stroke="#3a2a10" stroke-width="0.9"/>
<line x1="444.00" y1="125.64" x2="447.20" y2="125.64" stroke="#1a1a1a" stroke-width="1.0"/>
<line x1="445.60" y1="129.60" x2="445.60" y2="132.00" stroke="#222" stroke-width="0.9"/>
<rect x="450.25" y="115.45" width="3.60" height="14.15" fill="#F1901A" />
<rect x="450.25" y="123.71" width="3.60" height="5.89" fill="#195894" />
<line x1="450.45" y1="115.90" x2="453.65" y2="115.90" stroke="#3a2a10" stroke-width="0.9"/>
<line x1="450.45" y1="124.21" x2="453.65" y2="124.21" stroke="#1a1a1a" stroke-width="1.0"/>
<line x1="452.05" y1="129.60" x2="452.05" y2="132.00" stroke="#222" stroke-width="0.9"/>
<rect x="456.70" y="114.19" width="3.60" height="15.41" fill="#F1901A" />
<rect x="456.70" y="121.18" width="3.60" height="8.42" fill="#195894" />
<line x1="456.90" y1="114.64" x2="460.10" y2="114.64" stroke="#3a2a10" stroke-width="0.9"/>
<line x1="456.90" y1="121.68" x2="460.10" y2="121.68" stroke="#1a1a1a" stroke-width="1.0"/>
<line x1="458.50" y1="111.24" x2="458.50" y2="114.19" stroke="#333" stroke-width="0.6"/>
<line x1="457.40" y1="111.24" x2="459.60" y2="111.24" stroke="#333" stroke-width="0.6"/>
<line x1="458.50" y1="129.60" x2="458.50" y2="132.00" stroke="#222" stroke-width="0.9"/>
<polygon points="418.80,139.50 461.00,136.10 461.00,139.50" fill="url(#wg)"/>
<text transform="translate(421.38,142.30) rotate(-90)" font-size="5.1" text-anchor="end" fill="#333" stroke="#333" stroke-width="0.18000000000000002">DMSO</text>
<text transform="translate(427.83,142.30) rotate(-90)" font-size="5.1" text-anchor="end" fill="#333" stroke="#333" stroke-width="0.18000000000000002">1 µM</text>
<text transform="translate(434.28,142.30) rotate(-90)" font-size="5.1" text-anchor="end" fill="#333" stroke="#333" stroke-width="0.18000000000000002">5 µM</text>
<text transform="translate(440.73,142.30) rotate(-90)" font-size="5.1" text-anchor="end" fill="#333" stroke="#333" stroke-width="0.18000000000000002">15 µM</text>
<text transform="translate(447.18,142.30) rotate(-90)" font-size="5.1" text-anchor="end" fill="#333" stroke="#333" stroke-width="0.18000000000000002">30 µM</text>
<text transform="translate(453.63,142.30) rotate(-90)" font-size="5.1" text-anchor="end" fill="#333" stroke="#333" stroke-width="0.18000000000000002">45 µM</text>
<text transform="translate(460.08,142.30) rotate(-90)" font-size="5.1" text-anchor="end" fill="#333" stroke="#333" stroke-width="0.18000000000000002">75 µM</text>
<rect x="469.40" y="127.41" width="3.60" height="2.19" fill="#F1901A" />
<rect x="469.40" y="127.41" width="3.60" height="2.19" fill="#195894" />
<line x1="469.60" y1="127.86" x2="472.80" y2="127.86" stroke="#3a2a10" stroke-width="0.9"/>
<line x1="469.60" y1="127.91" x2="472.80" y2="127.91" stroke="#1a1a1a" stroke-width="1.0"/>
<line x1="471.20" y1="129.60" x2="471.20" y2="132.00" stroke="#222" stroke-width="0.9"/>
<rect x="475.85" y="127.41" width="3.60" height="2.19" fill="#F1901A" />
<rect x="475.85" y="127.41" width="3.60" height="2.19" fill="#195894" />
<line x1="476.05" y1="127.86" x2="479.25" y2="127.86" stroke="#3a2a10" stroke-width="0.9"/>
<line x1="476.05" y1="127.91" x2="479.25" y2="127.91" stroke="#1a1a1a" stroke-width="1.0"/>
<line x1="477.65" y1="129.60" x2="477.65" y2="132.00" stroke="#222" stroke-width="0.9"/>
<rect x="482.30" y="127.41" width="3.60" height="2.19" fill="#F1901A" />
<rect x="482.30" y="127.41" width="3.60" height="2.19" fill="#195894" />
<line x1="482.50" y1="127.86" x2="485.70" y2="127.86" stroke="#3a2a10" stroke-width="0.9"/>
<line x1="482.50" y1="127.91" x2="485.70" y2="127.91" stroke="#1a1a1a" stroke-width="1.0"/>
<line x1="484.10" y1="129.60" x2="484.10" y2="132.00" stroke="#222" stroke-width="0.9"/>
<rect x="488.75" y="125.81" width="3.60" height="3.79" fill="#F1901A" />
<rect x="488.75" y="128.76" width="3.60" height="0.84" fill="#195894" />
<line x1="488.95" y1="126.26" x2="492.15" y2="126.26" stroke="#3a2a10" stroke-width="0.9"/>
<line x1="488.95" y1="129.26" x2="492.15" y2="129.26" stroke="#1a1a1a" stroke-width="1.0"/>
<line x1="490.55" y1="129.60" x2="490.55" y2="132.00" stroke="#222" stroke-width="0.9"/>
<rect x="495.20" y="124.80" width="3.60" height="4.80" fill="#F1901A" />
<rect x="495.20" y="127.58" width="3.60" height="2.02" fill="#195894" />
<line x1="495.40" y1="125.25" x2="498.60" y2="125.25" stroke="#3a2a10" stroke-width="0.9"/>
<line x1="495.40" y1="128.08" x2="498.60" y2="128.08" stroke="#1a1a1a" stroke-width="1.0"/>
<line x1="497.00" y1="129.60" x2="497.00" y2="132.00" stroke="#222" stroke-width="0.9"/>
<rect x="501.65" y="120.76" width="3.60" height="8.84" fill="#F1901A" />
<rect x="501.65" y="125.81" width="3.60" height="3.79" fill="#195894" />
<line x1="501.85" y1="121.21" x2="505.05" y2="121.21" stroke="#3a2a10" stroke-width="0.9"/>
<line x1="501.85" y1="126.31" x2="505.05" y2="126.31" stroke="#1a1a1a" stroke-width="1.0"/>
<line x1="503.45" y1="129.60" x2="503.45" y2="132.00" stroke="#222" stroke-width="0.9"/>
<rect x="508.10" y="120.09" width="3.60" height="9.51" fill="#F1901A" />
<rect x="508.10" y="125.39" width="3.60" height="4.21" fill="#195894" />
<line x1="508.30" y1="120.54" x2="511.50" y2="120.54" stroke="#3a2a10" stroke-width="0.9"/>
<line x1="508.30" y1="125.89" x2="511.50" y2="125.89" stroke="#1a1a1a" stroke-width="1.0"/>
<line x1="509.90" y1="129.60" x2="509.90" y2="132.00" stroke="#222" stroke-width="0.9"/>
<polygon points="470.20,139.50 512.40,136.10 512.40,139.50" fill="url(#wg)"/>
<text transform="translate(472.78,142.30) rotate(-90)" font-size="5.1" text-anchor="end" fill="#333" stroke="#333" stroke-width="0.18000000000000002">DMSO</text>
<text transform="translate(479.23,142.30) rotate(-90)" font-size="5.1" text-anchor="end" fill="#333" stroke="#333" stroke-width="0.18000000000000002">1 µM</text>
<text transform="translate(485.68,142.30) rotate(-90)" font-size="5.1" text-anchor="end" fill="#333" stroke="#333" stroke-width="0.18000000000000002">5 µM</text>
<text transform="translate(492.13,142.30) rotate(-90)" font-size="5.1" text-anchor="end" fill="#333" stroke="#333" stroke-width="0.18000000000000002">15 µM</text>
<text transform="translate(498.58,142.30) rotate(-90)" font-size="5.1" text-anchor="end" fill="#333" stroke="#333" stroke-width="0.18000000000000002">30 µM</text>
<text transform="translate(505.03,142.30) rotate(-90)" font-size="5.1" text-anchor="end" fill="#333" stroke="#333" stroke-width="0.18000000000000002">45 µM</text>
<text transform="translate(511.48,142.30) rotate(-90)" font-size="5.1" text-anchor="end" fill="#333" stroke="#333" stroke-width="0.18000000000000002">75 µM</text>
<line x1="415.30" y1="164.40" x2="462.00" y2="164.40" stroke="#333" stroke-width="0.9"/>
<line x1="467.70" y1="164.40" x2="513.40" y2="164.40" stroke="#333" stroke-width="0.9"/>
<text x="439.15" y="172.60" font-size="6.6" text-anchor="middle" font-weight="normal" fill="#333" stroke="#333" stroke-width="0.2" textLength="17.8" lengthAdjust="spacingAndGlyphs" >L cells</text>
<text x="490.55" y="172.60" font-size="6.6" text-anchor="middle" font-weight="normal" fill="#333" stroke="#333" stroke-width="0.2" textLength="42.4" lengthAdjust="spacingAndGlyphs" >CD40L<tspan font-size="3.84" dy="-2.36">+</tspan><tspan dy="2.36"> L cells</tspan></text>
<rect x="227.30" y="184.20" width="4.80" height="4.70" fill="#F1901A" />
<text x="235.40" y="188.80" font-size="6.5" text-anchor="start" font-weight="normal" fill="#333" stroke="#333" stroke-width="0.2" textLength="43.6" lengthAdjust="spacingAndGlyphs" >VAD-FMK+ cells</text>
<rect x="290.40" y="184.20" width="4.50" height="4.70" fill="#195894" />
<text x="298.00" y="188.80" font-size="6.5" text-anchor="start" font-weight="normal" fill="#333" stroke="#333" stroke-width="0.2" textLength="27.9" lengthAdjust="spacingAndGlyphs" >Dead cells</text>
<text x="46.10" y="213.80" font-size="10.6" text-anchor="start" font-weight="bold" fill="#111" stroke="#111" stroke-width="0" >B</text>
<text x="124.50" y="225.20" font-size="6.5" text-anchor="middle" font-weight="normal" fill="#333" stroke="#333" stroke-width="0.2" textLength="12.9" lengthAdjust="spacingAndGlyphs" >HBL1</text>
<line x1="106.70" y1="229.20" x2="143.80" y2="229.20" stroke="#333" stroke-width="0.9"/>
<text x="168.80" y="225.20" font-size="6.5" text-anchor="middle" font-weight="normal" fill="#333" stroke="#333" stroke-width="0.2" textLength="11.0" lengthAdjust="spacingAndGlyphs" >FL18</text>
<line x1="151.50" y1="229.20" x2="189.00" y2="229.20" stroke="#333" stroke-width="0.9"/>
<text x="215.50" y="225.20" font-size="6.5" text-anchor="middle" font-weight="normal" fill="#333" stroke="#333" stroke-width="0.2" textLength="17.6" lengthAdjust="spacingAndGlyphs" >FL318</text>
<line x1="196.50" y1="229.20" x2="234.30" y2="229.20" stroke="#333" stroke-width="0.9"/>
<text x="99.60" y="237.50" font-size="6.5" text-anchor="end" font-weight="normal" fill="#333" stroke="#333" stroke-width="0.2" textLength="16.6" lengthAdjust="spacingAndGlyphs" >L cells</text>
<text x="99.60" y="247.30" font-size="6.5" text-anchor="end" font-weight="normal" fill="#333" stroke="#333" stroke-width="0.2" textLength="40.6" lengthAdjust="spacingAndGlyphs" >CD40L<tspan font-size="3.72" dy="-2.28">+</tspan><tspan dy="2.28"> L cells</tspan></text>
<line x1="109.00" y1="235.20" x2="112.60" y2="235.20" stroke="#555" stroke-width="0.7"/>
<line x1="109.00" y1="245.10" x2="112.60" y2="245.10" stroke="#555" stroke-width="0.7"/>
<line x1="124.70" y1="235.10" x2="128.10" y2="235.10" stroke="#333" stroke-width="0.75"/>
<line x1="126.40" y1="233.40" x2="126.40" y2="236.80" stroke="#333" stroke-width="0.75"/>
<line x1="124.60" y1="245.10" x2="128.20" y2="245.10" stroke="#555" stroke-width="0.7"/>
<line x1="139.50" y1="235.20" x2="143.10" y2="235.20" stroke="#555" stroke-width="0.7"/>
<line x1="139.60" y1="245.00" x2="143.00" y2="245.00" stroke="#333" stroke-width="0.75"/>
<line x1="141.30" y1="243.30" x2="141.30" y2="246.70" stroke="#333" stroke-width="0.75"/>
<line x1="155.20" y1="235.20" x2="158.80" y2="235.20" stroke="#555" stroke-width="0.7"/>
<line x1="155.20" y1="245.10" x2="158.80" y2="245.10" stroke="#555" stroke-width="0.7"/>
<line x1="169.30" y1="235.10" x2="172.70" y2="235.10" stroke="#333" stroke-width="0.75"/>
<line x1="171.00" y1="233.40" x2="171.00" y2="236.80" stroke="#333" stroke-width="0.75"/>
<line x1="169.20" y1="245.10" x2="172.80" y2="245.10" stroke="#555" stroke-width="0.7"/>
<line x1="183.20" y1="235.20" x2="186.80" y2="235.20" stroke="#555" stroke-width="0.7"/>
<line x1="183.30" y1="245.00" x2="186.70" y2="245.00" stroke="#333" stroke-width="0.75"/>
<line x1="185.00" y1="243.30" x2="185.00" y2="246.70" stroke="#333" stroke-width="0.75"/>
<line x1="198.10" y1="235.20" x2="201.70" y2="235.20" stroke="#555" stroke-width="0.7"/>
<line x1="198.10" y1="245.10" x2="201.70" y2="245.10" stroke="#555" stroke-width="0.7"/>
<line x1="212.50" y1="235.10" x2="215.90" y2="235.10" stroke="#333" stroke-width="0.75"/>
<line x1="214.20" y1="233.40" x2="214.20" y2="236.80" stroke="#333" stroke-width="0.75"/>
<line x1="212.40" y1="245.10" x2="216.00" y2="245.10" stroke="#555" stroke-width="0.7"/>
<line x1="227.20" y1="235.20" x2="230.80" y2="235.20" stroke="#555" stroke-width="0.7"/>
<line x1="227.30" y1="245.00" x2="230.70" y2="245.00" stroke="#333" stroke-width="0.75"/>
<line x1="229.00" y1="243.30" x2="229.00" y2="246.70" stroke="#333" stroke-width="0.75"/>
<text x="246.40" y="246.10" font-size="6.0" text-anchor="start" font-weight="normal" fill="#333" stroke="#333" stroke-width="0.2" textLength="13.8" lengthAdjust="spacingAndGlyphs" >(kDa)</text>
<rect x="102.60" y="251.40" width="136.40" height="17.20" fill="url(#blotg)" />
<rect x="102.60" y="272.90" width="136.40" height="18.40" fill="url(#blotg)" />
<rect x="102.60" y="295.20" width="136.40" height="17.30" fill="url(#blotg)" />
<text x="75.90" y="262.80" font-size="8.6" text-anchor="start" font-weight="normal" fill="#1a1a1a" stroke="#1a1a1a" stroke-width="0.1" textLength="23.9" lengthAdjust="spacingAndGlyphs" >TRAF2</text>
<text x="75.90" y="284.20" font-size="8.6" text-anchor="start" font-weight="normal" fill="#1a1a1a" stroke="#1a1a1a" stroke-width="0.1" textLength="24.2" lengthAdjust="spacingAndGlyphs" >TRAF3</text>
<text x="76.00" y="305.60" font-size="8.6" text-anchor="start" font-weight="normal" fill="#1a1a1a" stroke="#1a1a1a" stroke-width="0.1" textLength="24.0" lengthAdjust="spacingAndGlyphs" >β-actin</text>
<line x1="241.00" y1="261.40" x2="247.00" y2="261.40" stroke="#444" stroke-width="1.5"/>
<text x="249.70" y="263.60" font-size="6.2" text-anchor="start" font-weight="normal" fill="#333" stroke="#333" stroke-width="0.2" textLength="6.8" lengthAdjust="spacingAndGlyphs" >55</text>
<line x1="241.00" y1="284.60" x2="247.00" y2="284.60" stroke="#444" stroke-width="1.5"/>
<text x="249.70" y="286.80" font-size="6.2" text-anchor="start" font-weight="normal" fill="#333" stroke="#333" stroke-width="0.2" textLength="6.8" lengthAdjust="spacingAndGlyphs" >55</text>
<line x1="241.00" y1="304.40" x2="247.00" y2="304.40" stroke="#444" stroke-width="1.5"/>
<text x="249.70" y="306.60" font-size="6.2" text-anchor="start" font-weight="normal" fill="#333" stroke="#333" stroke-width="0.2" textLength="6.8" lengthAdjust="spacingAndGlyphs" >37</text>
<rect x="104.10" y="262.40" width="13.40" height="3.40" rx="1.70" fill="#080808" fill-opacity="1.0" filter="url(#bl)"/>
<rect x="120.15" y="262.50" width="12.50" height="3.40" rx="1.70" fill="#080808" fill-opacity="1.0" filter="url(#bl)"/>
<rect x="136.30" y="262.00" width="10.00" height="3.80" rx="1.90" fill="#080808" fill-opacity="0.36" filter="url(#bl)"/>
<rect x="151.25" y="261.35" width="11.50" height="3.30" rx="1.65" fill="#080808" fill-opacity="0.95" filter="url(#bl)" transform="rotate(-2.00 157.00 263.00)"/>
<rect x="165.75" y="260.70" width="10.50" height="3.20" rx="1.60" fill="#080808" fill-opacity="0.95" filter="url(#bl)" transform="rotate(-3.00 171.00 262.30)"/>
<rect x="180.00" y="260.70" width="10.00" height="3.00" rx="1.50" fill="#080808" fill-opacity="0.35" filter="url(#bl)" transform="rotate(-3.00 185.00 262.20)"/>
<rect x="194.15" y="258.40" width="11.50" height="3.40" rx="1.70" fill="#080808" fill-opacity="0.97" filter="url(#bl)" transform="rotate(-5.00 199.90 260.10)"/>
<rect x="207.95" y="257.60" width="12.50" height="3.40" rx="1.70" fill="#080808" fill-opacity="0.97" filter="url(#bl)" transform="rotate(-5.00 214.20 259.30)"/>
<rect x="223.50" y="255.40" width="11.00" height="2.40" rx="1.20" fill="#080808" fill-opacity="0.28" filter="url(#bl)" transform="rotate(-8.00 229.00 256.60)"/>
<rect x="105.05" y="277.30" width="11.50" height="2.80" rx="1.40" fill="#080808" fill-opacity="0.55" filter="url(#bl)"/>
<rect x="121.15" y="277.30" width="10.50" height="2.80" rx="1.40" fill="#080808" fill-opacity="0.45" filter="url(#bl)"/>
<rect x="136.80" y="277.70" width="9.00" height="2.60" rx="1.30" fill="#080808" fill-opacity="0.1" filter="url(#bl)"/>
<rect x="150.75" y="283.50" width="12.50" height="3.80" rx="1.90" fill="#080808" fill-opacity="1.0" filter="url(#bl)"/>
<rect x="164.75" y="283.80" width="12.50" height="3.80" rx="1.90" fill="#080808" fill-opacity="1.0" filter="url(#bl)"/>
<rect x="179.75" y="284.60" width="10.50" height="2.80" rx="1.40" fill="#080808" fill-opacity="0.25" filter="url(#bl)"/>
<rect x="193.90" y="283.20" width="12.00" height="3.60" rx="1.80" fill="#080808" fill-opacity="0.97" filter="url(#bl)" transform="rotate(-3.00 199.90 285.00)"/>
<rect x="207.95" y="282.10" width="12.50" height="3.40" rx="1.70" fill="#080808" fill-opacity="0.95" filter="url(#bl)" transform="rotate(-4.00 214.20 283.80)"/>
<rect x="223.50" y="280.70" width="11.00" height="2.60" rx="1.30" fill="#080808" fill-opacity="0.25" filter="url(#bl)" transform="rotate(-6.00 229.00 282.00)"/>
<rect x="103.30" y="303.05" width="15.00" height="3.30" rx="1.65" fill="#080808" fill-opacity="0.95" filter="url(#bl)"/>
<rect x="118.90" y="303.05" width="15.00" height="3.30" rx="1.65" fill="#080808" fill-opacity="0.95" filter="url(#bl)"/>
<rect x="133.80" y="302.95" width="15.00" height="3.30" rx="1.65" fill="#080808" fill-opacity="0.95" filter="url(#bl)"/>
<rect x="149.50" y="302.85" width="15.00" height="3.30" rx="1.65" fill="#080808" fill-opacity="0.95" filter="url(#bl)"/>
<rect x="163.50" y="302.65" width="15.00" height="3.30" rx="1.65" fill="#080808" fill-opacity="0.95" filter="url(#bl)"/>
<rect x="177.50" y="302.55" width="15.00" height="3.30" rx="1.65" fill="#080808" fill-opacity="0.95" filter="url(#bl)"/>
<rect x="192.40" y="301.95" width="15.00" height="3.30" rx="1.65" fill="#080808" fill-opacity="0.95" filter="url(#bl)"/>
<rect x="206.70" y="301.65" width="15.00" height="3.30" rx="1.65" fill="#080808" fill-opacity="0.95" filter="url(#bl)"/>
<rect x="221.50" y="300.35" width="15.00" height="3.30" rx="1.65" fill="#080808" fill-opacity="0.95" filter="url(#bl)"/>
<text x="275.30" y="213.60" font-size="10.6" text-anchor="start" font-weight="bold" fill="#111" stroke="#111" stroke-width="0" >C</text>
<text x="346.90" y="229.20" font-size="6.5" text-anchor="middle" font-weight="normal" fill="#333" stroke="#333" stroke-width="0.2" textLength="14.6" lengthAdjust="spacingAndGlyphs" >mock</text>
<line x1="335.20" y1="232.00" x2="360.00" y2="232.00" stroke="#333" stroke-width="0.9"/>
<text x="377.60" y="229.20" font-size="6.5" text-anchor="middle" font-weight="normal" fill="#333" stroke="#333" stroke-width="0.2" textLength="28.6" lengthAdjust="spacingAndGlyphs" >TRAF3 KO</text>
<line x1="364.80" y1="232.00" x2="389.90" y2="232.00" stroke="#333" stroke-width="0.9"/>
<text x="327.20" y="241.00" font-size="6.5" text-anchor="end" font-weight="normal" fill="#333" stroke="#333" stroke-width="0.2" textLength="16.4" lengthAdjust="spacingAndGlyphs" >L cells</text>
<text x="327.20" y="250.50" font-size="6.5" text-anchor="end" font-weight="normal" fill="#333" stroke="#333" stroke-width="0.2" textLength="40.0" lengthAdjust="spacingAndGlyphs" >CD40L<tspan font-size="3.72" dy="-2.28">+</tspan><tspan dy="2.28"> L cells</tspan></text>
<line x1="338.90" y1="238.80" x2="342.30" y2="238.80" stroke="#333" stroke-width="0.75"/>
<line x1="340.60" y1="237.10" x2="340.60" y2="240.50" stroke="#333" stroke-width="0.75"/>
<line x1="338.80" y1="248.60" x2="342.40" y2="248.60" stroke="#555" stroke-width="0.7"/>
<line x1="354.40" y1="238.90" x2="358.00" y2="238.90" stroke="#555" stroke-width="0.7"/>
<line x1="354.50" y1="248.50" x2="357.90" y2="248.50" stroke="#333" stroke-width="0.75"/>
<line x1="356.20" y1="246.80" x2="356.20" y2="250.20" stroke="#333" stroke-width="0.75"/>
<line x1="369.80" y1="238.80" x2="373.20" y2="238.80" stroke="#333" stroke-width="0.75"/>
<line x1="371.50" y1="237.10" x2="371.50" y2="240.50" stroke="#333" stroke-width="0.75"/>
<line x1="369.70" y1="248.60" x2="373.30" y2="248.60" stroke="#555" stroke-width="0.7"/>
<line x1="385.20" y1="238.90" x2="388.80" y2="238.90" stroke="#555" stroke-width="0.7"/>
<line x1="385.30" y1="248.50" x2="388.70" y2="248.50" stroke="#333" stroke-width="0.75"/>
<line x1="387.00" y1="246.80" x2="387.00" y2="250.20" stroke="#333" stroke-width="0.75"/>
<text x="402.50" y="252.20" font-size="6.0" text-anchor="start" font-weight="normal" fill="#333" stroke="#333" stroke-width="0.2" textLength="13.6" lengthAdjust="spacingAndGlyphs" >(kDa)</text>
<rect x="330.20" y="255.10" width="63.80" height="13.70" fill="url(#blotg)" />
<rect x="330.20" y="275.60" width="63.80" height="12.80" fill="url(#blotg)" />
<rect x="330.20" y="295.30" width="63.80" height="14.10" fill="url(#blotg)" />
<text x="303.60" y="263.90" font-size="8.6" text-anchor="start" font-weight="normal" fill="#1a1a1a" stroke="#1a1a1a" stroke-width="0.1" textLength="24.0" lengthAdjust="spacingAndGlyphs" >TRAF3</text>
<text x="306.40" y="284.40" font-size="8.6" text-anchor="start" font-weight="normal" fill="#1a1a1a" stroke="#1a1a1a" stroke-width="0.1" textLength="21.0" lengthAdjust="spacingAndGlyphs" >cFLIP</text>
<text x="303.40" y="305.70" font-size="8.6" text-anchor="start" font-weight="normal" fill="#1a1a1a" stroke="#1a1a1a" stroke-width="0.1" textLength="24.2" lengthAdjust="spacingAndGlyphs" >β-actin</text>
<line x1="397.20" y1="265.20" x2="402.60" y2="265.20" stroke="#444" stroke-width="1.5"/>
<text x="405.30" y="267.40" font-size="6.2" text-anchor="start" font-weight="normal" fill="#333" stroke="#333" stroke-width="0.2" textLength="7.4" lengthAdjust="spacingAndGlyphs" >55</text>
<line x1="397.20" y1="281.40" x2="402.60" y2="281.40" stroke="#444" stroke-width="1.5"/>
<text x="405.30" y="283.60" font-size="6.2" text-anchor="start" font-weight="normal" fill="#333" stroke="#333" stroke-width="0.2" textLength="7.4" lengthAdjust="spacingAndGlyphs" >55</text>
<line x1="397.20" y1="302.40" x2="402.60" y2="302.40" stroke="#444" stroke-width="1.5"/>
<text x="405.30" y="304.60" font-size="6.2" text-anchor="start" font-weight="normal" fill="#333" stroke="#333" stroke-width="0.2" textLength="7.4" lengthAdjust="spacingAndGlyphs" >37</text>
<rect x="332.95" y="260.60" width="14.50" height="2.60" rx="1.30" fill="#080808" fill-opacity="0.95" filter="url(#bl)"/>
<rect x="350.10" y="261.20" width="11.00" height="2.20" rx="1.10" fill="#080808" fill-opacity="0.15" filter="url(#bl)"/>
<rect x="333.45" y="281.70" width="9.50" height="2.40" rx="1.20" fill="#080808" fill-opacity="0.85" filter="url(#bl)"/>
<rect x="347.65" y="280.25" width="10.50" height="2.70" rx="1.35" fill="#080808" fill-opacity="0.95" filter="url(#bl)"/>
<rect x="361.50" y="279.65" width="12.00" height="2.70" rx="1.35" fill="#080808" fill-opacity="0.95" filter="url(#bl)"/>
<rect x="377.80" y="277.95" width="14.00" height="3.30" rx="1.65" fill="#080808" fill-opacity="1.0" filter="url(#bl)"/>
<rect x="333.20" y="302.70" width="14.00" height="3.00" rx="1.50" fill="#080808" fill-opacity="1.0" filter="url(#bl)"/>
<rect x="348.25" y="302.30" width="12.50" height="3.00" rx="1.50" fill="#080808" fill-opacity="1.0" filter="url(#bl)"/>
<rect x="361.50" y="302.30" width="14.00" height="3.00" rx="1.50" fill="#080808" fill-opacity="1.0" filter="url(#bl)"/>
<rect x="378.00" y="301.50" width="14.00" height="3.00" rx="1.50" fill="#080808" fill-opacity="1.0" filter="url(#bl)"/>
<text x="46.50" y="336.80" font-size="10.6" text-anchor="start" font-weight="bold" fill="#111" stroke="#111" stroke-width="0" >D</text>
<text x="77.20" y="350.00" font-size="5.0" text-anchor="middle" font-weight="normal" fill="#444" stroke="#444" stroke-width="0.2" textLength="8.6" lengthAdjust="spacingAndGlyphs" >(%)</text>
<text x="161.00" y="349.90" font-size="8.0" text-anchor="middle" font-weight="normal" fill="#222" stroke="#222" stroke-width="0.15" textLength="18.6" lengthAdjust="spacingAndGlyphs" >mock</text>
<line x1="87.20" y1="355.00" x2="87.20" y2="458.90" stroke="#1e1e1e" stroke-width="1.2"/>
<line x1="84.40" y1="458.30" x2="87.20" y2="458.30" stroke="#222" stroke-width="0.9"/>
<text x="81.70" y="460.30" font-size="5.5" text-anchor="end" font-weight="normal" fill="#333" stroke="#333" stroke-width="0.2" textLength="3.4" lengthAdjust="spacingAndGlyphs" >0</text>
<line x1="84.40" y1="445.75" x2="87.20" y2="445.75" stroke="#222" stroke-width="0.9"/>
<text x="81.70" y="447.75" font-size="5.5" text-anchor="end" font-weight="normal" fill="#333" stroke="#333" stroke-width="0.2" textLength="6.9" lengthAdjust="spacingAndGlyphs" >10</text>
<line x1="84.40" y1="433.21" x2="87.20" y2="433.21" stroke="#222" stroke-width="0.9"/>
<text x="81.70" y="435.21" font-size="5.5" text-anchor="end" font-weight="normal" fill="#333" stroke="#333" stroke-width="0.2" textLength="6.9" lengthAdjust="spacingAndGlyphs" >20</text>
<line x1="84.40" y1="420.67" x2="87.20" y2="420.67" stroke="#222" stroke-width="0.9"/>
<text x="81.70" y="422.67" font-size="5.5" text-anchor="end" font-weight="normal" fill="#333" stroke="#333" stroke-width="0.2" textLength="6.9" lengthAdjust="spacingAndGlyphs" >30</text>
<line x1="84.40" y1="408.12" x2="87.20" y2="408.12" stroke="#222" stroke-width="0.9"/>
<text x="81.70" y="410.12" font-size="5.5" text-anchor="end" font-weight="normal" fill="#333" stroke="#333" stroke-width="0.2" textLength="6.9" lengthAdjust="spacingAndGlyphs" >40</text>
<line x1="84.40" y1="395.58" x2="87.20" y2="395.58" stroke="#222" stroke-width="0.9"/>
<text x="81.70" y="397.58" font-size="5.5" text-anchor="end" font-weight="normal" fill="#333" stroke="#333" stroke-width="0.2" textLength="6.9" lengthAdjust="spacingAndGlyphs" >50</text>
<line x1="84.40" y1="383.03" x2="87.20" y2="383.03" stroke="#222" stroke-width="0.9"/>
<text x="81.70" y="385.03" font-size="5.5" text-anchor="end" font-weight="normal" fill="#333" stroke="#333" stroke-width="0.2" textLength="6.9" lengthAdjust="spacingAndGlyphs" >60</text>
<line x1="84.40" y1="370.49" x2="87.20" y2="370.49" stroke="#222" stroke-width="0.9"/>
<text x="81.70" y="372.49" font-size="5.5" text-anchor="end" font-weight="normal" fill="#333" stroke="#333" stroke-width="0.2" textLength="6.9" lengthAdjust="spacingAndGlyphs" >70</text>
<line x1="84.40" y1="357.94" x2="87.20" y2="357.94" stroke="#222" stroke-width="0.9"/>
<text x="81.70" y="359.94" font-size="5.5" text-anchor="end" font-weight="normal" fill="#333" stroke="#333" stroke-width="0.2" textLength="6.9" lengthAdjust="spacingAndGlyphs" >80</text>
<line x1="84.40" y1="458.30" x2="234.60" y2="458.30" stroke="#2a3440" stroke-width="1.3"/>
<rect x="99.25" y="454.66" width="4.50" height="3.64" fill="#F1901A" />
<rect x="99.25" y="457.42" width="4.50" height="0.88" fill="#195894" />
<line x1="99.45" y1="455.11" x2="103.55" y2="455.11" stroke="#3a2a10" stroke-width="0.9"/>
<line x1="99.45" y1="457.92" x2="103.55" y2="457.92" stroke="#1a1a1a" stroke-width="1.0"/>
<line x1="101.50" y1="458.30" x2="101.50" y2="460.70" stroke="#222" stroke-width="0.9"/>
<rect x="108.43" y="454.66" width="4.50" height="3.64" fill="#F1901A" />
<rect x="108.43" y="457.42" width="4.50" height="0.88" fill="#195894" />
<line x1="108.63" y1="455.11" x2="112.73" y2="455.11" stroke="#3a2a10" stroke-width="0.9"/>
<line x1="108.63" y1="457.92" x2="112.73" y2="457.92" stroke="#1a1a1a" stroke-width="1.0"/>
<line x1="110.68" y1="458.30" x2="110.68" y2="460.70" stroke="#222" stroke-width="0.9"/>
<rect x="117.61" y="454.66" width="4.50" height="3.64" fill="#F1901A" />
<rect x="117.61" y="457.42" width="4.50" height="0.88" fill="#195894" />
<line x1="117.81" y1="455.11" x2="121.91" y2="455.11" stroke="#3a2a10" stroke-width="0.9"/>
<line x1="117.81" y1="457.92" x2="121.91" y2="457.92" stroke="#1a1a1a" stroke-width="1.0"/>
<line x1="119.86" y1="458.30" x2="119.86" y2="460.70" stroke="#222" stroke-width="0.9"/>
<rect x="126.79" y="454.66" width="4.50" height="3.64" fill="#F1901A" />
<rect x="126.79" y="457.42" width="4.50" height="0.88" fill="#195894" />
<line x1="126.99" y1="455.11" x2="131.09" y2="455.11" stroke="#3a2a10" stroke-width="0.9"/>
<line x1="126.99" y1="457.92" x2="131.09" y2="457.92" stroke="#1a1a1a" stroke-width="1.0"/>
<line x1="129.04" y1="458.30" x2="129.04" y2="460.70" stroke="#222" stroke-width="0.9"/>
<rect x="135.97" y="443.50" width="4.50" height="14.80" fill="#F1901A" />
<rect x="135.97" y="454.66" width="4.50" height="3.64" fill="#195894" />
<line x1="136.17" y1="443.95" x2="140.27" y2="443.95" stroke="#3a2a10" stroke-width="0.9"/>
<line x1="136.17" y1="455.16" x2="140.27" y2="455.16" stroke="#1a1a1a" stroke-width="1.0"/>
<line x1="138.22" y1="458.30" x2="138.22" y2="460.70" stroke="#222" stroke-width="0.9"/>
<rect x="145.15" y="435.22" width="4.50" height="23.08" fill="#F1901A" />
<rect x="145.15" y="450.40" width="4.50" height="7.90" fill="#195894" />
<line x1="145.35" y1="435.67" x2="149.45" y2="435.67" stroke="#3a2a10" stroke-width="0.9"/>
<line x1="145.35" y1="450.90" x2="149.45" y2="450.90" stroke="#1a1a1a" stroke-width="1.0"/>
<line x1="147.40" y1="458.30" x2="147.40" y2="460.70" stroke="#222" stroke-width="0.9"/>
<rect x="154.33" y="417.03" width="4.50" height="41.27" fill="#F1901A" />
<rect x="154.33" y="437.60" width="4.50" height="20.70" fill="#195894" />
<line x1="154.53" y1="417.48" x2="158.63" y2="417.48" stroke="#3a2a10" stroke-width="0.9"/>
<line x1="154.53" y1="438.10" x2="158.63" y2="438.10" stroke="#1a1a1a" stroke-width="1.0"/>
<line x1="156.58" y1="458.30" x2="156.58" y2="460.70" stroke="#222" stroke-width="0.9"/>
<polygon points="100.00,468.00 159.38,464.70 159.38,468.00" fill="url(#wg)"/>
<text transform="translate(102.92,471.20) rotate(-90)" font-size="5.9" text-anchor="end" fill="#333" stroke="#333" stroke-width="0.18000000000000002">DMSO</text>
<text transform="translate(112.10,471.20) rotate(-90)" font-size="5.9" text-anchor="end" fill="#333" stroke="#333" stroke-width="0.18000000000000002">1 µM</text>
<text transform="translate(121.28,471.20) rotate(-90)" font-size="5.9" text-anchor="end" fill="#333" stroke="#333" stroke-width="0.18000000000000002">5 µM</text>
<text transform="translate(130.46,471.20) rotate(-90)" font-size="5.9" text-anchor="end" fill="#333" stroke="#333" stroke-width="0.18000000000000002">15 µM</text>
<text transform="translate(139.64,471.20) rotate(-90)" font-size="5.9" text-anchor="end" fill="#333" stroke="#333" stroke-width="0.18000000000000002">30 µM</text>
<text transform="translate(148.82,471.20) rotate(-90)" font-size="5.9" text-anchor="end" fill="#333" stroke="#333" stroke-width="0.18000000000000002">45 µM</text>
<text transform="translate(158.00,471.20) rotate(-90)" font-size="5.9" text-anchor="end" fill="#333" stroke="#333" stroke-width="0.18000000000000002">75 µM</text>
<line x1="98.50" y1="492.70" x2="159.58" y2="492.70" stroke="#333" stroke-width="1.0"/>
<rect x="172.85" y="452.03" width="4.50" height="6.27" fill="#F1901A" />
<rect x="172.85" y="457.05" width="4.50" height="1.25" fill="#195894" />
<line x1="173.05" y1="452.48" x2="177.15" y2="452.48" stroke="#3a2a10" stroke-width="0.9"/>
<line x1="173.05" y1="457.55" x2="177.15" y2="457.55" stroke="#1a1a1a" stroke-width="1.0"/>
<line x1="175.10" y1="458.30" x2="175.10" y2="460.70" stroke="#222" stroke-width="0.9"/>
<rect x="182.03" y="452.65" width="4.50" height="5.65" fill="#F1901A" />
<rect x="182.03" y="457.05" width="4.50" height="1.25" fill="#195894" />
<line x1="182.23" y1="453.10" x2="186.33" y2="453.10" stroke="#3a2a10" stroke-width="0.9"/>
<line x1="182.23" y1="457.55" x2="186.33" y2="457.55" stroke="#1a1a1a" stroke-width="1.0"/>
<line x1="184.28" y1="458.30" x2="184.28" y2="460.70" stroke="#222" stroke-width="0.9"/>
<rect x="191.21" y="452.65" width="4.50" height="5.65" fill="#F1901A" />
<rect x="191.21" y="457.05" width="4.50" height="1.25" fill="#195894" />
<line x1="191.41" y1="453.10" x2="195.51" y2="453.10" stroke="#3a2a10" stroke-width="0.9"/>
<line x1="191.41" y1="457.55" x2="195.51" y2="457.55" stroke="#1a1a1a" stroke-width="1.0"/>
<line x1="193.46" y1="458.30" x2="193.46" y2="460.70" stroke="#222" stroke-width="0.9"/>
<rect x="200.39" y="449.77" width="4.50" height="8.53" fill="#F1901A" />
<rect x="200.39" y="456.42" width="4.50" height="1.88" fill="#195894" />
<line x1="200.59" y1="450.22" x2="204.69" y2="450.22" stroke="#3a2a10" stroke-width="0.9"/>
<line x1="200.59" y1="456.92" x2="204.69" y2="456.92" stroke="#1a1a1a" stroke-width="1.0"/>
<line x1="202.64" y1="458.30" x2="202.64" y2="460.70" stroke="#222" stroke-width="0.9"/>
<rect x="209.57" y="435.09" width="4.50" height="23.21" fill="#F1901A" />
<rect x="209.57" y="449.77" width="4.50" height="8.53" fill="#195894" />
<line x1="209.77" y1="435.54" x2="213.87" y2="435.54" stroke="#3a2a10" stroke-width="0.9"/>
<line x1="209.77" y1="450.27" x2="213.87" y2="450.27" stroke="#1a1a1a" stroke-width="1.0"/>
<line x1="211.82" y1="458.30" x2="211.82" y2="460.70" stroke="#222" stroke-width="0.9"/>
<rect x="218.75" y="426.18" width="4.50" height="32.12" fill="#F1901A" />
<rect x="218.75" y="446.76" width="4.50" height="11.54" fill="#195894" />
<line x1="218.95" y1="426.63" x2="223.05" y2="426.63" stroke="#3a2a10" stroke-width="0.9"/>
<line x1="218.95" y1="447.26" x2="223.05" y2="447.26" stroke="#1a1a1a" stroke-width="1.0"/>
<line x1="221.00" y1="458.30" x2="221.00" y2="460.70" stroke="#222" stroke-width="0.9"/>
<rect x="227.93" y="397.83" width="4.50" height="60.47" fill="#F1901A" />
<rect x="227.93" y="427.69" width="4.50" height="30.61" fill="#195894" />
<line x1="228.13" y1="398.28" x2="232.23" y2="398.28" stroke="#3a2a10" stroke-width="0.9"/>
<line x1="228.13" y1="428.19" x2="232.23" y2="428.19" stroke="#1a1a1a" stroke-width="1.0"/>
<line x1="230.18" y1="458.30" x2="230.18" y2="460.70" stroke="#222" stroke-width="0.9"/>
<polygon points="173.60,468.00 232.98,464.70 232.98,468.00" fill="url(#wg)"/>
<text transform="translate(176.52,471.20) rotate(-90)" font-size="5.9" text-anchor="end" fill="#333" stroke="#333" stroke-width="0.18000000000000002">DMSO</text>
<text transform="translate(185.70,471.20) rotate(-90)" font-size="5.9" text-anchor="end" fill="#333" stroke="#333" stroke-width="0.18000000000000002">1 µM</text>
<text transform="translate(194.88,471.20) rotate(-90)" font-size="5.9" text-anchor="end" fill="#333" stroke="#333" stroke-width="0.18000000000000002">5 µM</text>
<text transform="translate(204.06,471.20) rotate(-90)" font-size="5.9" text-anchor="end" fill="#333" stroke="#333" stroke-width="0.18000000000000002">15 µM</text>
<text transform="translate(213.24,471.20) rotate(-90)" font-size="5.9" text-anchor="end" fill="#333" stroke="#333" stroke-width="0.18000000000000002">30 µM</text>
<text transform="translate(222.42,471.20) rotate(-90)" font-size="5.9" text-anchor="end" fill="#333" stroke="#333" stroke-width="0.18000000000000002">45 µM</text>
<text transform="translate(231.60,471.20) rotate(-90)" font-size="5.9" text-anchor="end" fill="#333" stroke="#333" stroke-width="0.18000000000000002">75 µM</text>
<line x1="172.10" y1="492.70" x2="233.18" y2="492.70" stroke="#333" stroke-width="1.0"/>
<text x="129.04" y="500.60" font-size="6.6" text-anchor="middle" font-weight="normal" fill="#333" stroke="#333" stroke-width="0.2" textLength="16.6" lengthAdjust="spacingAndGlyphs" >L cells</text>
<text x="202.64" y="500.60" font-size="6.6" text-anchor="middle" font-weight="normal" fill="#333" stroke="#333" stroke-width="0.2" textLength="41.5" lengthAdjust="spacingAndGlyphs" >CD40L<tspan font-size="3.84" dy="-2.36">+</tspan><tspan dy="2.36"> L cells</tspan></text>
<line x1="126.90" y1="388.10" x2="202.70" y2="388.10" stroke="#7a7a7a" stroke-width="1.5"/>
<text x="164.80" y="388.30" font-size="5.4" text-anchor="middle" font-weight="normal" fill="#555" stroke="#555" stroke-width="0.05" textLength="4.6" lengthAdjust="spacingAndGlyphs" >**</text>
<line x1="136.00" y1="379.60" x2="211.50" y2="379.60" stroke="#7a7a7a" stroke-width="1.5"/>
<text x="173.75" y="379.80" font-size="5.4" text-anchor="middle" font-weight="normal" fill="#555" stroke="#555" stroke-width="0.05" textLength="6.8999999999999995" lengthAdjust="spacingAndGlyphs" >***</text>
<line x1="145.40" y1="371.90" x2="221.50" y2="371.90" stroke="#7a7a7a" stroke-width="1.5"/>
<text x="183.45" y="372.10" font-size="5.4" text-anchor="middle" font-weight="normal" fill="#555" stroke="#555" stroke-width="0.05" textLength="6.8999999999999995" lengthAdjust="spacingAndGlyphs" >***</text>
<line x1="155.80" y1="365.00" x2="231.90" y2="365.00" stroke="#7a7a7a" stroke-width="1.5"/>
<text x="193.85" y="365.20" font-size="5.4" text-anchor="middle" font-weight="normal" fill="#555" stroke="#555" stroke-width="0.05" textLength="6.8999999999999995" lengthAdjust="spacingAndGlyphs" >***</text>
<text x="254.20" y="350.00" font-size="5.0" text-anchor="middle" font-weight="normal" fill="#444" stroke="#444" stroke-width="0.2" textLength="8.6" lengthAdjust="spacingAndGlyphs" >(%)</text>
<text x="338.70" y="349.90" font-size="8.0" text-anchor="middle" font-weight="normal" fill="#222" stroke="#222" stroke-width="0.15" textLength="37.6" lengthAdjust="spacingAndGlyphs" >TRAF3 KO</text>
<line x1="264.40" y1="355.00" x2="264.40" y2="458.90" stroke="#1e1e1e" stroke-width="1.2"/>
<line x1="261.60" y1="458.30" x2="264.40" y2="458.30" stroke="#222" stroke-width="0.9"/>
<text x="259.10" y="460.30" font-size="5.5" text-anchor="end" font-weight="normal" fill="#333" stroke="#333" stroke-width="0.2" textLength="3.4" lengthAdjust="spacingAndGlyphs" >0</text>
<line x1="261.60" y1="445.75" x2="264.40" y2="445.75" stroke="#222" stroke-width="0.9"/>
<text x="259.10" y="447.75" font-size="5.5" text-anchor="end" font-weight="normal" fill="#333" stroke="#333" stroke-width="0.2" textLength="6.9" lengthAdjust="spacingAndGlyphs" >10</text>
<line x1="261.60" y1="433.21" x2="264.40" y2="433.21" stroke="#222" stroke-width="0.9"/>
<text x="259.10" y="435.21" font-size="5.5" text-anchor="end" font-weight="normal" fill="#333" stroke="#333" stroke-width="0.2" textLength="6.9" lengthAdjust="spacingAndGlyphs" >20</text>
<line x1="261.60" y1="420.67" x2="264.40" y2="420.67" stroke="#222" stroke-width="0.9"/>
<text x="259.10" y="422.67" font-size="5.5" text-anchor="end" font-weight="normal" fill="#333" stroke="#333" stroke-width="0.2" textLength="6.9" lengthAdjust="spacingAndGlyphs" >30</text>
<line x1="261.60" y1="408.12" x2="264.40" y2="408.12" stroke="#222" stroke-width="0.9"/>
<text x="259.10" y="410.12" font-size="5.5" text-anchor="end" font-weight="normal" fill="#333" stroke="#333" stroke-width="0.2" textLength="6.9" lengthAdjust="spacingAndGlyphs" >40</text>
<line x1="261.60" y1="395.58" x2="264.40" y2="395.58" stroke="#222" stroke-width="0.9"/>
<text x="259.10" y="397.58" font-size="5.5" text-anchor="end" font-weight="normal" fill="#333" stroke="#333" stroke-width="0.2" textLength="6.9" lengthAdjust="spacingAndGlyphs" >50</text>
<line x1="261.60" y1="383.03" x2="264.40" y2="383.03" stroke="#222" stroke-width="0.9"/>
<text x="259.10" y="385.03" font-size="5.5" text-anchor="end" font-weight="normal" fill="#333" stroke="#333" stroke-width="0.2" textLength="6.9" lengthAdjust="spacingAndGlyphs" >60</text>
<line x1="261.60" y1="370.49" x2="264.40" y2="370.49" stroke="#222" stroke-width="0.9"/>
<text x="259.10" y="372.49" font-size="5.5" text-anchor="end" font-weight="normal" fill="#333" stroke="#333" stroke-width="0.2" textLength="6.9" lengthAdjust="spacingAndGlyphs" >70</text>
<line x1="261.60" y1="357.94" x2="264.40" y2="357.94" stroke="#222" stroke-width="0.9"/>
<text x="259.10" y="359.94" font-size="5.5" text-anchor="end" font-weight="normal" fill="#333" stroke="#333" stroke-width="0.2" textLength="6.9" lengthAdjust="spacingAndGlyphs" >80</text>
<line x1="261.60" y1="458.30" x2="412.30" y2="458.30" stroke="#2a3440" stroke-width="1.3"/>
<rect x="276.05" y="454.66" width="4.50" height="3.64" fill="#F1901A" />
<rect x="276.05" y="457.30" width="4.50" height="1.00" fill="#195894" />
<line x1="276.25" y1="455.11" x2="280.35" y2="455.11" stroke="#3a2a10" stroke-width="0.9"/>
<line x1="276.25" y1="457.80" x2="280.35" y2="457.80" stroke="#1a1a1a" stroke-width="1.0"/>
<line x1="278.30" y1="458.30" x2="278.30" y2="460.70" stroke="#222" stroke-width="0.9"/>
<rect x="285.25" y="454.66" width="4.50" height="3.64" fill="#F1901A" />
<rect x="285.25" y="457.30" width="4.50" height="1.00" fill="#195894" />
<line x1="285.45" y1="455.11" x2="289.55" y2="455.11" stroke="#3a2a10" stroke-width="0.9"/>
<line x1="285.45" y1="457.80" x2="289.55" y2="457.80" stroke="#1a1a1a" stroke-width="1.0"/>
<line x1="287.50" y1="458.30" x2="287.50" y2="460.70" stroke="#222" stroke-width="0.9"/>
<rect x="294.45" y="454.03" width="4.50" height="4.27" fill="#F1901A" />
<rect x="294.45" y="457.30" width="4.50" height="1.00" fill="#195894" />
<line x1="294.65" y1="454.48" x2="298.75" y2="454.48" stroke="#3a2a10" stroke-width="0.9"/>
<line x1="294.65" y1="457.80" x2="298.75" y2="457.80" stroke="#1a1a1a" stroke-width="1.0"/>
<line x1="296.70" y1="458.30" x2="296.70" y2="460.70" stroke="#222" stroke-width="0.9"/>
<rect x="303.65" y="453.16" width="4.50" height="5.14" fill="#F1901A" />
<rect x="303.65" y="456.67" width="4.50" height="1.63" fill="#195894" />
<line x1="303.85" y1="453.61" x2="307.95" y2="453.61" stroke="#3a2a10" stroke-width="0.9"/>
<line x1="303.85" y1="457.17" x2="307.95" y2="457.17" stroke="#1a1a1a" stroke-width="1.0"/>
<line x1="305.90" y1="458.30" x2="305.90" y2="460.70" stroke="#222" stroke-width="0.9"/>
<rect x="312.85" y="440.61" width="4.50" height="17.69" fill="#F1901A" />
<rect x="312.85" y="453.16" width="4.50" height="5.14" fill="#195894" />
<line x1="313.05" y1="441.06" x2="317.15" y2="441.06" stroke="#3a2a10" stroke-width="0.9"/>
<line x1="313.05" y1="453.66" x2="317.15" y2="453.66" stroke="#1a1a1a" stroke-width="1.0"/>
<line x1="315.10" y1="439.23" x2="315.10" y2="440.61" stroke="#333" stroke-width="0.6"/>
<line x1="314.00" y1="439.23" x2="316.20" y2="439.23" stroke="#333" stroke-width="0.6"/>
<line x1="315.10" y1="458.30" x2="315.10" y2="460.70" stroke="#222" stroke-width="0.9"/>
<rect x="322.05" y="431.83" width="4.50" height="26.47" fill="#F1901A" />
<rect x="322.05" y="448.64" width="4.50" height="9.66" fill="#195894" />
<line x1="322.25" y1="432.28" x2="326.35" y2="432.28" stroke="#3a2a10" stroke-width="0.9"/>
<line x1="322.25" y1="449.14" x2="326.35" y2="449.14" stroke="#1a1a1a" stroke-width="1.0"/>
<line x1="324.30" y1="458.30" x2="324.30" y2="460.70" stroke="#222" stroke-width="0.9"/>
<rect x="331.25" y="427.06" width="4.50" height="31.24" fill="#F1901A" />
<rect x="331.25" y="439.23" width="4.50" height="19.07" fill="#195894" />
<line x1="331.45" y1="427.51" x2="335.55" y2="427.51" stroke="#3a2a10" stroke-width="0.9"/>
<line x1="331.45" y1="439.73" x2="335.55" y2="439.73" stroke="#1a1a1a" stroke-width="1.0"/>
<line x1="333.50" y1="458.30" x2="333.50" y2="460.70" stroke="#222" stroke-width="0.9"/>
<polygon points="276.80,468.00 336.30,464.70 336.30,468.00" fill="url(#wg)"/>
<text transform="translate(279.72,471.20) rotate(-90)" font-size="5.9" text-anchor="end" fill="#333" stroke="#333" stroke-width="0.18000000000000002">DMSO</text>
<text transform="translate(288.92,471.20) rotate(-90)" font-size="5.9" text-anchor="end" fill="#333" stroke="#333" stroke-width="0.18000000000000002">1 µM</text>
<text transform="translate(298.12,471.20) rotate(-90)" font-size="5.9" text-anchor="end" fill="#333" stroke="#333" stroke-width="0.18000000000000002">5 µM</text>
<text transform="translate(307.32,471.20) rotate(-90)" font-size="5.9" text-anchor="end" fill="#333" stroke="#333" stroke-width="0.18000000000000002">15 µM</text>
<text transform="translate(316.52,471.20) rotate(-90)" font-size="5.9" text-anchor="end" fill="#333" stroke="#333" stroke-width="0.18000000000000002">30 µM</text>
<text transform="translate(325.72,471.20) rotate(-90)" font-size="5.9" text-anchor="end" fill="#333" stroke="#333" stroke-width="0.18000000000000002">45 µM</text>
<text transform="translate(334.92,471.20) rotate(-90)" font-size="5.9" text-anchor="end" fill="#333" stroke="#333" stroke-width="0.18000000000000002">75 µM</text>
<line x1="275.30" y1="492.70" x2="336.50" y2="492.70" stroke="#333" stroke-width="1.0"/>
<rect x="350.15" y="453.78" width="4.50" height="4.52" fill="#F1901A" />
<rect x="350.15" y="456.17" width="4.50" height="2.13" fill="#195894" />
<line x1="350.35" y1="454.23" x2="354.45" y2="454.23" stroke="#3a2a10" stroke-width="0.9"/>
<line x1="350.35" y1="456.67" x2="354.45" y2="456.67" stroke="#1a1a1a" stroke-width="1.0"/>
<line x1="352.40" y1="458.30" x2="352.40" y2="460.70" stroke="#222" stroke-width="0.9"/>
<rect x="359.35" y="453.78" width="4.50" height="4.52" fill="#F1901A" />
<rect x="359.35" y="456.17" width="4.50" height="2.13" fill="#195894" />
<line x1="359.55" y1="454.23" x2="363.65" y2="454.23" stroke="#3a2a10" stroke-width="0.9"/>
<line x1="359.55" y1="456.67" x2="363.65" y2="456.67" stroke="#1a1a1a" stroke-width="1.0"/>
<line x1="361.60" y1="458.30" x2="361.60" y2="460.70" stroke="#222" stroke-width="0.9"/>
<rect x="368.55" y="453.78" width="4.50" height="4.52" fill="#F1901A" />
<rect x="368.55" y="456.17" width="4.50" height="2.13" fill="#195894" />
<line x1="368.75" y1="454.23" x2="372.85" y2="454.23" stroke="#3a2a10" stroke-width="0.9"/>
<line x1="368.75" y1="456.67" x2="372.85" y2="456.67" stroke="#1a1a1a" stroke-width="1.0"/>
<line x1="370.80" y1="458.30" x2="370.80" y2="460.70" stroke="#222" stroke-width="0.9"/>
<rect x="377.75" y="453.16" width="4.50" height="5.14" fill="#F1901A" />
<rect x="377.75" y="456.04" width="4.50" height="2.26" fill="#195894" />
<line x1="377.95" y1="453.61" x2="382.05" y2="453.61" stroke="#3a2a10" stroke-width="0.9"/>
<line x1="377.95" y1="456.54" x2="382.05" y2="456.54" stroke="#1a1a1a" stroke-width="1.0"/>
<line x1="380.00" y1="458.30" x2="380.00" y2="460.70" stroke="#222" stroke-width="0.9"/>
<rect x="386.95" y="444.38" width="4.50" height="13.92" fill="#F1901A" />
<rect x="386.95" y="453.66" width="4.50" height="4.64" fill="#195894" />
<line x1="387.15" y1="444.83" x2="391.25" y2="444.83" stroke="#3a2a10" stroke-width="0.9"/>
<line x1="387.15" y1="454.16" x2="391.25" y2="454.16" stroke="#1a1a1a" stroke-width="1.0"/>
<line x1="389.20" y1="458.30" x2="389.20" y2="460.70" stroke="#222" stroke-width="0.9"/>
<rect x="396.15" y="435.47" width="4.50" height="22.83" fill="#F1901A" />
<rect x="396.15" y="448.77" width="4.50" height="9.53" fill="#195894" />
<line x1="396.35" y1="435.92" x2="400.45" y2="435.92" stroke="#3a2a10" stroke-width="0.9"/>
<line x1="396.35" y1="449.27" x2="400.45" y2="449.27" stroke="#1a1a1a" stroke-width="1.0"/>
<line x1="398.40" y1="458.30" x2="398.40" y2="460.70" stroke="#222" stroke-width="0.9"/>
<rect x="405.35" y="421.04" width="4.50" height="37.26" fill="#F1901A" />
<rect x="405.35" y="440.11" width="4.50" height="18.19" fill="#195894" />
<line x1="405.55" y1="421.49" x2="409.65" y2="421.49" stroke="#3a2a10" stroke-width="0.9"/>
<line x1="405.55" y1="440.61" x2="409.65" y2="440.61" stroke="#1a1a1a" stroke-width="1.0"/>
<line x1="407.60" y1="414.52" x2="407.60" y2="421.04" stroke="#333" stroke-width="0.6"/>
<line x1="406.50" y1="414.52" x2="408.70" y2="414.52" stroke="#333" stroke-width="0.6"/>
<line x1="407.60" y1="458.30" x2="407.60" y2="460.70" stroke="#222" stroke-width="0.9"/>
<polygon points="350.90,468.00 410.40,464.70 410.40,468.00" fill="url(#wg)"/>
<text transform="translate(353.82,471.20) rotate(-90)" font-size="5.9" text-anchor="end" fill="#333" stroke="#333" stroke-width="0.18000000000000002">DMSO</text>
<text transform="translate(363.02,471.20) rotate(-90)" font-size="5.9" text-anchor="end" fill="#333" stroke="#333" stroke-width="0.18000000000000002">1 µM</text>
<text transform="translate(372.22,471.20) rotate(-90)" font-size="5.9" text-anchor="end" fill="#333" stroke="#333" stroke-width="0.18000000000000002">5 µM</text>
<text transform="translate(381.42,471.20) rotate(-90)" font-size="5.9" text-anchor="end" fill="#333" stroke="#333" stroke-width="0.18000000000000002">15 µM</text>
<text transform="translate(390.62,471.20) rotate(-90)" font-size="5.9" text-anchor="end" fill="#333" stroke="#333" stroke-width="0.18000000000000002">30 µM</text>
<text transform="translate(399.82,471.20) rotate(-90)" font-size="5.9" text-anchor="end" fill="#333" stroke="#333" stroke-width="0.18000000000000002">45 µM</text>
<text transform="translate(409.02,471.20) rotate(-90)" font-size="5.9" text-anchor="end" fill="#333" stroke="#333" stroke-width="0.18000000000000002">75 µM</text>
<line x1="349.40" y1="492.70" x2="410.60" y2="492.70" stroke="#333" stroke-width="1.0"/>
<text x="305.90" y="500.60" font-size="6.6" text-anchor="middle" font-weight="normal" fill="#333" stroke="#333" stroke-width="0.2" textLength="16.6" lengthAdjust="spacingAndGlyphs" >L cells</text>
<text x="380.00" y="500.60" font-size="6.6" text-anchor="middle" font-weight="normal" fill="#333" stroke="#333" stroke-width="0.2" textLength="41.5" lengthAdjust="spacingAndGlyphs" >CD40L<tspan font-size="3.84" dy="-2.36">+</tspan><tspan dy="2.36"> L cells</tspan></text>
<line x1="305.20" y1="387.50" x2="381.00" y2="387.50" stroke="#7a7a7a" stroke-width="1.5"/>
<text x="343.10" y="386.00" font-size="5.4" text-anchor="middle" font-weight="normal" fill="#444" stroke="#444" stroke-width="0.1" textLength="8.7" lengthAdjust="spacingAndGlyphs" >n.s.</text>
<line x1="314.10" y1="379.80" x2="389.80" y2="379.80" stroke="#7a7a7a" stroke-width="1.5"/>
<text x="351.95" y="378.30" font-size="5.4" text-anchor="middle" font-weight="normal" fill="#444" stroke="#444" stroke-width="0.1" textLength="8.7" lengthAdjust="spacingAndGlyphs" >n.s.</text>
<line x1="322.90" y1="372.30" x2="398.50" y2="372.30" stroke="#7a7a7a" stroke-width="1.5"/>
<text x="360.70" y="370.80" font-size="5.4" text-anchor="middle" font-weight="normal" fill="#444" stroke="#444" stroke-width="0.1" textLength="8.7" lengthAdjust="spacingAndGlyphs" >n.s.</text>
<line x1="332.50" y1="365.20" x2="408.50" y2="365.20" stroke="#7a7a7a" stroke-width="1.5"/>
<text x="370.50" y="363.70" font-size="5.4" text-anchor="middle" font-weight="normal" fill="#444" stroke="#444" stroke-width="0.1" textLength="8.7" lengthAdjust="spacingAndGlyphs" >n.s.</text>
<text transform="translate(69.3,407.7) rotate(-90)" font-size="6.6" text-anchor="middle" fill="#1a1a1a" stroke="#1a1a1a" stroke-width="0.25" font-weight="bold" textLength="35.7" lengthAdjust="spacingAndGlyphs">Apoptotic cells</text>
<text x="59.80" y="482.80" font-size="6.5" text-anchor="middle" font-weight="normal" fill="#333" stroke="#333" stroke-width="0.2" textLength="29.5" lengthAdjust="spacingAndGlyphs" >bendamustine</text>
<rect x="421.20" y="399.50" width="5.20" height="4.80" fill="#F1901A" />
<text x="429.40" y="404.00" font-size="6.5" text-anchor="start" font-weight="normal" fill="#333" stroke="#333" stroke-width="0.2" textLength="43.7" lengthAdjust="spacingAndGlyphs" >VAD-FMK+ cells</text>
<rect x="421.20" y="409.40" width="5.20" height="4.80" fill="#195894" />
<text x="429.40" y="413.90" font-size="6.5" text-anchor="start" font-weight="normal" fill="#333" stroke="#333" stroke-width="0.2" textLength="27.3" lengthAdjust="spacingAndGlyphs" >Dead cells</text></svg>
<div class="frame"></div>
</body></html>
